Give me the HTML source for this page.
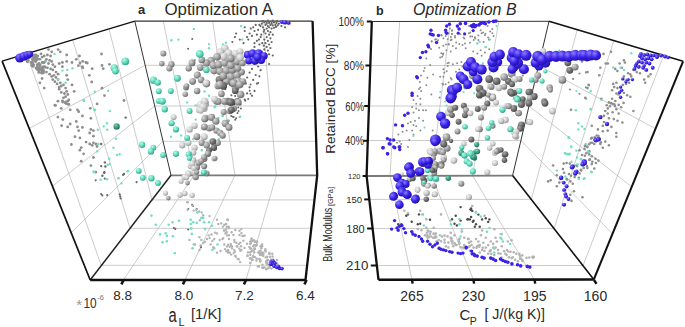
<!DOCTYPE html>
<html><head><meta charset="utf-8"><style>
html,body{margin:0;padding:0;background:#fff;}
svg{display:block;font-family:"Liberation Sans",sans-serif;}
</style></head><body>
<svg width="685" height="327" viewBox="0 0 685 327">
<defs>
<radialGradient id="gg" cx="0.32" cy="0.3" r="0.8"><stop offset="0" stop-color="#dadada"/><stop offset="0.55" stop-color="#9c9c9c"/><stop offset="1" stop-color="#5e5e5e"/></radialGradient>
<radialGradient id="gl" cx="0.35" cy="0.3" r="0.75"><stop offset="0" stop-color="#f4f4f4"/><stop offset="0.6" stop-color="#c8c8c8"/><stop offset="1" stop-color="#909090"/></radialGradient>
<radialGradient id="gd" cx="0.32" cy="0.3" r="0.8"><stop offset="0" stop-color="#a8a8a8"/><stop offset="0.55" stop-color="#6a6a6a"/><stop offset="1" stop-color="#404040"/></radialGradient>
<radialGradient id="gc" cx="0.35" cy="0.3" r="0.75"><stop offset="0" stop-color="#b8fbe8"/><stop offset="0.55" stop-color="#5fd8bd"/><stop offset="1" stop-color="#2f9c86"/></radialGradient>
<radialGradient id="gt" cx="0.35" cy="0.3" r="0.75"><stop offset="0" stop-color="#7fcfb8"/><stop offset="0.55" stop-color="#3a9a80"/><stop offset="1" stop-color="#1e6a56"/></radialGradient>
<radialGradient id="gb" cx="0.35" cy="0.3" r="0.75"><stop offset="0" stop-color="#8c7cff"/><stop offset="0.55" stop-color="#3a22e8"/><stop offset="1" stop-color="#1c0fa0"/></radialGradient>
</defs>
<g id="frame">
<polyline points="163.3,21.1 194.0,175.3 123.3,280.0" fill="none" stroke="#b0b0b0" stroke-width="0.65" />
<polyline points="212.7,21.1 234.9,175.3 185.0,280.0" fill="none" stroke="#b0b0b0" stroke-width="0.65" />
<polyline points="262.6,21.1 276.3,175.3 246.0,280.0" fill="none" stroke="#b0b0b0" stroke-width="0.65" />
<polyline points="29.4,128.5 145.0,65.3 313.6,65.3" fill="none" stroke="#b0b0b0" stroke-width="0.65" />
<polyline points="53.0,185.7 154.6,106.0 314.9,106.0" fill="none" stroke="#b0b0b0" stroke-width="0.65" />
<polyline points="71.5,232.5 162.9,141.3 316.4,141.3" fill="none" stroke="#b0b0b0" stroke-width="0.65" />
<polyline points="109.2,29.6 152.0,199.9 314.3,199.9" fill="none" stroke="#b0b0b0" stroke-width="0.65" />
<polyline points="72.8,40.3 130.0,228.3 311.2,228.3" fill="none" stroke="#b0b0b0" stroke-width="0.65" />
<polyline points="26.8,54.3 101.2,265.3 307.2,265.3" fill="none" stroke="#b0b0b0" stroke-width="0.65" />
<line x1="171.0" y1="175.3" x2="317.2" y2="175.4" stroke="#7a7a7a" stroke-width="1.8"/>
<line x1="134.8" y1="21.1" x2="171.0" y2="175.3" stroke="#333" stroke-width="1.0"/>
<line x1="134.8" y1="21.1" x2="312.6" y2="21.1" stroke="#333" stroke-width="1.1"/>
<line x1="171.0" y1="175.3" x2="90.2" y2="280.0" stroke="#222" stroke-width="1.5"/>
<line x1="2.1" y1="61.1" x2="134.8" y2="21.1" stroke="#111" stroke-width="1.5"/>
<line x1="2.1" y1="61.1" x2="90.2" y2="280.0" stroke="#111" stroke-width="1.7"/>
<polyline points="312.6,21.1 317.2,175.4 305.5,280.0" fill="none" stroke="#111" stroke-width="2.3" stroke-linejoin="miter"/>
<line x1="305.5" y1="280.0" x2="90.2" y2="280.0" stroke="#111" stroke-width="2.6"/>
<line x1="123.6" y1="280.0" x2="121.4" y2="284.3" stroke="#111" stroke-width="2.6"/>
<line x1="185.1" y1="280.0" x2="182.9" y2="284.3" stroke="#111" stroke-width="2.6"/>
<line x1="246.1" y1="280.0" x2="243.9" y2="284.3" stroke="#111" stroke-width="2.6"/>
<line x1="306.6" y1="280.0" x2="304.4" y2="284.3" stroke="#111" stroke-width="2.6"/>
<polyline points="399.7,21.3 390.0,175.6 412.0,280.0" fill="none" stroke="#b0b0b0" stroke-width="0.65" />
<polyline points="450.4,21.3 431.5,175.6 473.5,280.0" fill="none" stroke="#b0b0b0" stroke-width="0.65" />
<polyline points="498.8,21.3 472.5,175.6 534.6,280.0" fill="none" stroke="#b0b0b0" stroke-width="0.65" />
<polyline points="369.8,65.5 538.6,65.5 655.5,128.7" fill="none" stroke="#b0b0b0" stroke-width="0.65" />
<polyline points="368.6,106.0 529.0,106.0 631.7,186.8" fill="none" stroke="#b0b0b0" stroke-width="0.65" />
<polyline points="367.6,140.5 520.9,140.5 612.4,233.7" fill="none" stroke="#b0b0b0" stroke-width="0.65" />
<polyline points="369.2,199.4 531.3,199.4 577.3,29.7" fill="none" stroke="#b0b0b0" stroke-width="0.65" />
<polyline points="372.6,228.5 554.1,228.5 613.8,40.6" fill="none" stroke="#b0b0b0" stroke-width="0.65" />
<polyline points="376.8,265.5 583.1,265.5 663.6,55.5" fill="none" stroke="#b0b0b0" stroke-width="0.65" />
<line x1="366.6" y1="176.0" x2="512.6" y2="175.6" stroke="#7a7a7a" stroke-width="1.8"/>
<line x1="549.0" y1="21.3" x2="512.6" y2="175.6" stroke="#333" stroke-width="1.0"/>
<line x1="371.8" y1="21.5" x2="549.0" y2="21.3" stroke="#333" stroke-width="1.0"/>
<line x1="512.6" y1="175.6" x2="593.8" y2="279.5" stroke="#111" stroke-width="1.6"/>
<line x1="549.0" y1="21.3" x2="683.1" y2="61.3" stroke="#111" stroke-width="1.6"/>
<line x1="683.1" y1="61.3" x2="593.8" y2="279.5" stroke="#111" stroke-width="2.0"/>
<polyline points="371.8,21.5 366.6,176.0 378.5,279.8" fill="none" stroke="#111" stroke-width="2.3" stroke-linejoin="miter"/>
<line x1="378.5" y1="279.8" x2="593.8" y2="279.5" stroke="#111" stroke-width="2.6"/>
<line x1="366.8" y1="21.5" x2="371.8" y2="21.5" stroke="#111" stroke-width="2.0"/>
<line x1="365.4" y1="65.5" x2="370.4" y2="65.5" stroke="#111" stroke-width="2.0"/>
<line x1="364.2" y1="106.0" x2="369.2" y2="106.0" stroke="#111" stroke-width="2.0"/>
<line x1="363.1" y1="140.8" x2="368.1" y2="140.8" stroke="#111" stroke-width="2.0"/>
<line x1="362.6" y1="176.0" x2="366.6" y2="176.0" stroke="#111" stroke-width="2.0"/>
<line x1="364.2" y1="199.4" x2="369.2" y2="199.4" stroke="#111" stroke-width="2.0"/>
<line x1="367.1" y1="228.5" x2="372.6" y2="228.5" stroke="#111" stroke-width="2.0"/>
<line x1="370.8" y1="265.5" x2="376.8" y2="265.5" stroke="#111" stroke-width="2.0"/>
<line x1="412.0" y1="280.0" x2="412.6" y2="283.6" stroke="#111" stroke-width="2.4"/>
<line x1="473.5" y1="280.0" x2="474.1" y2="283.6" stroke="#111" stroke-width="2.4"/>
<line x1="534.6" y1="280.0" x2="535.2" y2="283.6" stroke="#111" stroke-width="2.4"/>
<line x1="594.0" y1="280.0" x2="596.5" y2="283.8" stroke="#111" stroke-width="2.4"/>
</g>
<g id="pts">
<circle cx="28.2" cy="60.3" r="1.40" fill="#8e8e8e"/>
<circle cx="31.4" cy="53.9" r="1.40" fill="#8e8e8e"/>
<circle cx="33.5" cy="57.1" r="1.40" fill="#8e8e8e"/>
<circle cx="35.7" cy="55.0" r="1.40" fill="#8e8e8e"/>
<circle cx="37.8" cy="56.0" r="1.40" fill="#8e8e8e"/>
<circle cx="39.9" cy="59.3" r="1.40" fill="#8e8e8e"/>
<circle cx="42.1" cy="57.1" r="1.40" fill="#8e8e8e"/>
<circle cx="44.2" cy="56.0" r="1.40" fill="#8e8e8e"/>
<circle cx="47.4" cy="55.0" r="1.40" fill="#8e8e8e"/>
<circle cx="50.6" cy="56.0" r="1.40" fill="#8e8e8e"/>
<circle cx="35.7" cy="61.4" r="1.40" fill="#8e8e8e"/>
<circle cx="38.9" cy="63.5" r="1.40" fill="#8e8e8e"/>
<circle cx="42.1" cy="62.5" r="1.40" fill="#8e8e8e"/>
<circle cx="45.3" cy="61.4" r="1.40" fill="#8e8e8e"/>
<circle cx="48.5" cy="63.5" r="1.40" fill="#8e8e8e"/>
<circle cx="52.8" cy="64.6" r="1.40" fill="#8e8e8e"/>
<circle cx="54.9" cy="66.7" r="1.40" fill="#8e8e8e"/>
<circle cx="44.2" cy="66.7" r="1.40" fill="#8e8e8e"/>
<circle cx="47.4" cy="67.8" r="1.40" fill="#8e8e8e"/>
<circle cx="50.6" cy="68.9" r="1.40" fill="#8e8e8e"/>
<circle cx="52.8" cy="69.9" r="1.40" fill="#8e8e8e"/>
<circle cx="56.0" cy="72.1" r="1.40" fill="#8e8e8e"/>
<circle cx="58.1" cy="74.2" r="1.40" fill="#8e8e8e"/>
<circle cx="53.9" cy="75.3" r="1.40" fill="#8e8e8e"/>
<circle cx="56.0" cy="77.4" r="1.40" fill="#8e8e8e"/>
<circle cx="52.8" cy="79.6" r="1.40" fill="#8e8e8e"/>
<circle cx="54.9" cy="81.7" r="1.40" fill="#8e8e8e"/>
<circle cx="58.1" cy="79.6" r="1.40" fill="#8e8e8e"/>
<circle cx="60.3" cy="82.8" r="1.40" fill="#8e8e8e"/>
<circle cx="61.3" cy="86.0" r="1.40" fill="#8e8e8e"/>
<circle cx="63.5" cy="84.9" r="1.40" fill="#8e8e8e"/>
<circle cx="65.6" cy="88.1" r="1.40" fill="#8e8e8e"/>
<circle cx="61.3" cy="92.4" r="1.40" fill="#8e8e8e"/>
<circle cx="64.5" cy="93.5" r="1.40" fill="#8e8e8e"/>
<circle cx="66.7" cy="91.3" r="1.40" fill="#8e8e8e"/>
<circle cx="67.8" cy="94.5" r="1.40" fill="#8e8e8e"/>
<circle cx="63.5" cy="97.8" r="1.40" fill="#8e8e8e"/>
<circle cx="62.4" cy="101.0" r="1.40" fill="#8e8e8e"/>
<circle cx="65.6" cy="102.0" r="1.40" fill="#8e8e8e"/>
<circle cx="67.8" cy="104.2" r="1.40" fill="#8e8e8e"/>
<circle cx="68.8" cy="99.9" r="1.40" fill="#8e8e8e"/>
<circle cx="59.2" cy="89.2" r="1.40" fill="#8e8e8e"/>
<circle cx="59.2" cy="63.5" r="1.40" fill="#8e8e8e"/>
<circle cx="62.4" cy="62.5" r="1.40" fill="#8e8e8e"/>
<circle cx="66.7" cy="61.4" r="1.40" fill="#8e8e8e"/>
<circle cx="62.4" cy="66.7" r="1.40" fill="#8e8e8e"/>
<circle cx="66.7" cy="55.0" r="1.40" fill="#8e8e8e"/>
<circle cx="72.0" cy="62.5" r="1.40" fill="#8e8e8e"/>
<circle cx="76.3" cy="59.3" r="1.40" fill="#8e8e8e"/>
<circle cx="78.4" cy="65.7" r="1.40" fill="#8e8e8e"/>
<circle cx="82.7" cy="67.8" r="1.40" fill="#8e8e8e"/>
<circle cx="82.7" cy="61.4" r="1.40" fill="#8e8e8e"/>
<circle cx="85.9" cy="62.5" r="1.40" fill="#8e8e8e"/>
<circle cx="79.5" cy="56.0" r="1.40" fill="#8e8e8e"/>
<circle cx="58.1" cy="49.6" r="1.40" fill="#8e8e8e"/>
<circle cx="60.3" cy="51.8" r="1.40" fill="#8e8e8e"/>
<circle cx="48.5" cy="49.6" r="1.40" fill="#8e8e8e"/>
<circle cx="51.7" cy="51.8" r="1.40" fill="#8e8e8e"/>
<circle cx="42.1" cy="78.5" r="1.40" fill="#8e8e8e"/>
<circle cx="39.9" cy="82.8" r="1.40" fill="#8e8e8e"/>
<circle cx="44.2" cy="88.1" r="1.40" fill="#8e8e8e"/>
<circle cx="74.2" cy="91.3" r="1.40" fill="#8e8e8e"/>
<circle cx="72.0" cy="84.9" r="1.40" fill="#8e8e8e"/>
<circle cx="67.8" cy="79.6" r="1.40" fill="#8e8e8e"/>
<circle cx="66.7" cy="75.3" r="1.40" fill="#8e8e8e"/>
<circle cx="54.9" cy="105.2" r="1.40" fill="#8e8e8e"/>
<circle cx="61.3" cy="108.4" r="1.40" fill="#8e8e8e"/>
<circle cx="30.3" cy="57.1" r="1.40" fill="#8e8e8e"/>
<circle cx="33.5" cy="59.3" r="1.40" fill="#8e8e8e"/>
<circle cx="36.7" cy="58.2" r="1.40" fill="#8e8e8e"/>
<circle cx="41.0" cy="53.9" r="1.40" fill="#8e8e8e"/>
<circle cx="46.4" cy="59.3" r="1.40" fill="#8e8e8e"/>
<circle cx="49.6" cy="60.3" r="1.40" fill="#8e8e8e"/>
<circle cx="51.7" cy="61.4" r="1.40" fill="#8e8e8e"/>
<circle cx="39.9" cy="65.7" r="1.40" fill="#8e8e8e"/>
<circle cx="43.2" cy="69.9" r="1.40" fill="#8e8e8e"/>
<circle cx="46.4" cy="72.1" r="1.40" fill="#8e8e8e"/>
<circle cx="49.6" cy="74.2" r="1.40" fill="#8e8e8e"/>
<circle cx="51.7" cy="76.4" r="1.40" fill="#8e8e8e"/>
<circle cx="57.1" cy="83.9" r="1.40" fill="#8e8e8e"/>
<circle cx="59.2" cy="87.1" r="1.40" fill="#8e8e8e"/>
<circle cx="65.6" cy="96.7" r="1.40" fill="#8e8e8e"/>
<circle cx="54.5" cy="53.9" r="1.20" fill="#6fe0c6"/>
<circle cx="44.7" cy="61.4" r="1.20" fill="#6fe0c6"/>
<circle cx="62.4" cy="70.6" r="1.20" fill="#6fe0c6"/>
<circle cx="67.3" cy="69.9" r="1.20" fill="#6fe0c6"/>
<circle cx="72.5" cy="68.2" r="1.20" fill="#6fe0c6"/>
<circle cx="58.1" cy="79.6" r="1.20" fill="#6fe0c6"/>
<circle cx="65.6" cy="82.8" r="1.20" fill="#6fe0c6"/>
<circle cx="83.8" cy="100.5" r="1.20" fill="#6fe0c6"/>
<circle cx="39.3" cy="68.3" r="1.60" fill="#8e8e8e"/>
<circle cx="43.3" cy="72.7" r="1.60" fill="#8e8e8e"/>
<circle cx="42.0" cy="72.3" r="1.60" fill="#8e8e8e"/>
<circle cx="35.8" cy="57.4" r="1.60" fill="#8e8e8e"/>
<circle cx="37.5" cy="64.6" r="1.60" fill="#8e8e8e"/>
<circle cx="29.8" cy="56.7" r="1.60" fill="#8e8e8e"/>
<circle cx="37.4" cy="66.9" r="1.60" fill="#8e8e8e"/>
<circle cx="33.3" cy="55.7" r="1.60" fill="#8e8e8e"/>
<circle cx="28.4" cy="53.4" r="1.60" fill="#8e8e8e"/>
<circle cx="31.9" cy="65.3" r="1.60" fill="#8e8e8e"/>
<circle cx="32.8" cy="58.8" r="1.60" fill="#8e8e8e"/>
<circle cx="43.8" cy="62.6" r="1.60" fill="#8e8e8e"/>
<circle cx="32.3" cy="62.6" r="1.60" fill="#8e8e8e"/>
<circle cx="42.2" cy="70.6" r="1.60" fill="#8e8e8e"/>
<circle cx="33.4" cy="64.7" r="1.60" fill="#8e8e8e"/>
<circle cx="32.9" cy="59.8" r="1.60" fill="#8e8e8e"/>
<circle cx="37.1" cy="69.1" r="1.60" fill="#8e8e8e"/>
<circle cx="43.3" cy="70.9" r="1.60" fill="#8e8e8e"/>
<circle cx="27.1" cy="59.5" r="1.60" fill="#8e8e8e"/>
<circle cx="39.0" cy="72.2" r="1.60" fill="#8e8e8e"/>
<circle cx="37.5" cy="58.9" r="1.60" fill="#8e8e8e"/>
<circle cx="32.3" cy="55.9" r="1.60" fill="#8e8e8e"/>
<circle cx="26.8" cy="55.3" r="1.60" fill="#8e8e8e"/>
<circle cx="34.3" cy="57.2" r="1.60" fill="#8e8e8e"/>
<circle cx="38.7" cy="70.2" r="1.60" fill="#8e8e8e"/>
<circle cx="35.5" cy="61.3" r="1.60" fill="#8e8e8e"/>
<circle cx="41.8" cy="72.9" r="1.60" fill="#8e8e8e"/>
<circle cx="39.5" cy="69.3" r="1.60" fill="#8e8e8e"/>
<circle cx="27.5" cy="61.6" r="1.60" fill="#8e8e8e"/>
<circle cx="31.8" cy="62.0" r="1.60" fill="#8e8e8e"/>
<circle cx="36.2" cy="68.0" r="1.60" fill="#8e8e8e"/>
<circle cx="36.0" cy="58.4" r="1.60" fill="#8e8e8e"/>
<circle cx="34.3" cy="55.2" r="1.60" fill="#8e8e8e"/>
<circle cx="36.5" cy="59.4" r="1.60" fill="#8e8e8e"/>
<circle cx="27.1" cy="58.0" r="1.60" fill="#8e8e8e"/>
<circle cx="43.0" cy="71.1" r="1.60" fill="#8e8e8e"/>
<circle cx="42.8" cy="67.3" r="1.60" fill="#8e8e8e"/>
<circle cx="40.3" cy="68.7" r="1.60" fill="#8e8e8e"/>
<circle cx="31.5" cy="62.7" r="1.60" fill="#8e8e8e"/>
<circle cx="42.7" cy="67.2" r="1.60" fill="#8e8e8e"/>
<circle cx="39.9" cy="64.8" r="1.60" fill="#8e8e8e"/>
<circle cx="39.9" cy="69.5" r="1.60" fill="#8e8e8e"/>
<circle cx="33.0" cy="66.2" r="1.60" fill="#8e8e8e"/>
<circle cx="42.0" cy="70.2" r="1.60" fill="#8e8e8e"/>
<circle cx="45.0" cy="67.1" r="1.60" fill="#8e8e8e"/>
<circle cx="101.5" cy="54.0" r="1.40" fill="#8e8e8e"/>
<circle cx="87.3" cy="63.0" r="1.40" fill="#8e8e8e"/>
<circle cx="80.0" cy="63.0" r="1.40" fill="#8e8e8e"/>
<circle cx="82.4" cy="66.7" r="1.40" fill="#8e8e8e"/>
<circle cx="92.2" cy="68.7" r="1.40" fill="#8e8e8e"/>
<circle cx="102.0" cy="65.5" r="1.40" fill="#8e8e8e"/>
<circle cx="103.2" cy="68.7" r="1.40" fill="#8e8e8e"/>
<circle cx="109.4" cy="64.3" r="1.40" fill="#8e8e8e"/>
<circle cx="89.3" cy="75.3" r="1.40" fill="#8e8e8e"/>
<circle cx="91.7" cy="81.9" r="1.40" fill="#8e8e8e"/>
<circle cx="102.0" cy="88.2" r="1.40" fill="#8e8e8e"/>
<circle cx="104.5" cy="95.6" r="1.40" fill="#8e8e8e"/>
<circle cx="97.1" cy="103.9" r="1.40" fill="#8e8e8e"/>
<circle cx="90.3" cy="108.3" r="1.40" fill="#8e8e8e"/>
<circle cx="124.0" cy="100.5" r="1.40" fill="#8e8e8e"/>
<circle cx="94.7" cy="91.7" r="1.20" fill="#6fe0c6"/>
<circle cx="108.1" cy="90.7" r="1.20" fill="#6fe0c6"/>
<circle cx="83.7" cy="100.5" r="1.20" fill="#6fe0c6"/>
<circle cx="94.7" cy="109.5" r="1.20" fill="#6fe0c6"/>
<circle cx="57.9" cy="101.2" r="1.40" fill="#8e8e8e"/>
<circle cx="62.8" cy="102.0" r="1.40" fill="#8e8e8e"/>
<circle cx="65.3" cy="102.9" r="1.40" fill="#8e8e8e"/>
<circle cx="67.7" cy="101.2" r="1.40" fill="#8e8e8e"/>
<circle cx="68.9" cy="104.4" r="1.40" fill="#8e8e8e"/>
<circle cx="66.5" cy="103.7" r="1.40" fill="#8e8e8e"/>
<circle cx="55.5" cy="105.4" r="1.40" fill="#8e8e8e"/>
<circle cx="70.2" cy="109.8" r="1.40" fill="#8e8e8e"/>
<circle cx="77.5" cy="109.8" r="1.40" fill="#8e8e8e"/>
<circle cx="78.7" cy="111.7" r="1.40" fill="#8e8e8e"/>
<circle cx="57.9" cy="117.1" r="1.40" fill="#8e8e8e"/>
<circle cx="62.8" cy="119.6" r="1.40" fill="#8e8e8e"/>
<circle cx="76.3" cy="121.5" r="1.40" fill="#8e8e8e"/>
<circle cx="82.4" cy="115.9" r="1.40" fill="#8e8e8e"/>
<circle cx="90.9" cy="118.3" r="1.40" fill="#8e8e8e"/>
<circle cx="61.6" cy="125.7" r="1.40" fill="#8e8e8e"/>
<circle cx="67.7" cy="126.9" r="1.40" fill="#8e8e8e"/>
<circle cx="70.2" cy="124.0" r="1.40" fill="#8e8e8e"/>
<circle cx="77.5" cy="126.9" r="1.40" fill="#8e8e8e"/>
<circle cx="78.7" cy="130.6" r="1.40" fill="#8e8e8e"/>
<circle cx="82.4" cy="127.4" r="1.40" fill="#8e8e8e"/>
<circle cx="90.9" cy="129.4" r="1.40" fill="#8e8e8e"/>
<circle cx="93.4" cy="130.6" r="1.40" fill="#8e8e8e"/>
<circle cx="75.0" cy="136.7" r="1.40" fill="#8e8e8e"/>
<circle cx="79.9" cy="137.9" r="1.40" fill="#8e8e8e"/>
<circle cx="89.7" cy="133.0" r="1.40" fill="#8e8e8e"/>
<circle cx="93.4" cy="136.2" r="1.40" fill="#8e8e8e"/>
<circle cx="86.1" cy="142.1" r="1.40" fill="#8e8e8e"/>
<circle cx="89.7" cy="144.0" r="1.40" fill="#8e8e8e"/>
<circle cx="92.2" cy="145.3" r="1.40" fill="#8e8e8e"/>
<circle cx="71.4" cy="144.5" r="1.40" fill="#8e8e8e"/>
<circle cx="81.2" cy="147.7" r="1.40" fill="#8e8e8e"/>
<circle cx="79.9" cy="150.2" r="1.40" fill="#8e8e8e"/>
<circle cx="83.6" cy="153.8" r="1.40" fill="#8e8e8e"/>
<circle cx="93.4" cy="142.8" r="1.40" fill="#8e8e8e"/>
<circle cx="95.8" cy="144.0" r="1.40" fill="#8e8e8e"/>
<circle cx="97.1" cy="146.5" r="1.40" fill="#8e8e8e"/>
<circle cx="81.2" cy="161.2" r="1.40" fill="#8e8e8e"/>
<circle cx="93.4" cy="157.5" r="1.40" fill="#8e8e8e"/>
<circle cx="90.9" cy="165.6" r="1.40" fill="#8e8e8e"/>
<circle cx="95.8" cy="172.2" r="1.40" fill="#8e8e8e"/>
<circle cx="84.1" cy="100.7" r="1.20" fill="#6fe0c6"/>
<circle cx="94.6" cy="110.3" r="1.20" fill="#6fe0c6"/>
<circle cx="97.8" cy="129.8" r="1.20" fill="#6fe0c6"/>
<circle cx="98.3" cy="144.0" r="1.20" fill="#6fe0c6"/>
<circle cx="97.1" cy="151.4" r="1.20" fill="#6fe0c6"/>
<circle cx="93.4" cy="171.4" r="1.20" fill="#6fe0c6"/>
<circle cx="104.1" cy="172.9" r="1.10" fill="#6a6a6a"/>
<circle cx="95.7" cy="180.3" r="1.10" fill="#6a6a6a"/>
<circle cx="104.8" cy="178.6" r="1.10" fill="#6a6a6a"/>
<circle cx="101.1" cy="194.0" r="1.10" fill="#6a6a6a"/>
<circle cx="102.3" cy="195.4" r="1.10" fill="#6a6a6a"/>
<circle cx="107.2" cy="195.2" r="1.10" fill="#6a6a6a"/>
<circle cx="119.7" cy="194.4" r="1.10" fill="#6a6a6a"/>
<circle cx="120.2" cy="196.4" r="1.10" fill="#6a6a6a"/>
<circle cx="120.7" cy="198.4" r="1.10" fill="#6a6a6a"/>
<circle cx="123.1" cy="174.9" r="1.10" fill="#6a6a6a"/>
<circle cx="136.6" cy="182.2" r="1.10" fill="#6a6a6a"/>
<circle cx="94.3" cy="172.4" r="1.20" fill="#6fe0c6"/>
<circle cx="100.6" cy="179.8" r="1.20" fill="#6fe0c6"/>
<circle cx="107.2" cy="179.3" r="1.20" fill="#6fe0c6"/>
<circle cx="118.7" cy="178.1" r="1.20" fill="#6fe0c6"/>
<circle cx="121.4" cy="183.4" r="1.20" fill="#6fe0c6"/>
<circle cx="127.5" cy="171.2" r="1.20" fill="#6fe0c6"/>
<circle cx="109.8" cy="111.0" r="1.20" fill="#6fe0c6"/>
<circle cx="106.9" cy="123.2" r="1.20" fill="#6fe0c6"/>
<circle cx="103.7" cy="126.4" r="1.20" fill="#6fe0c6"/>
<circle cx="107.3" cy="129.8" r="1.20" fill="#6fe0c6"/>
<circle cx="115.9" cy="138.7" r="1.20" fill="#6fe0c6"/>
<circle cx="113.5" cy="147.7" r="1.20" fill="#6fe0c6"/>
<circle cx="117.1" cy="155.0" r="1.20" fill="#6fe0c6"/>
<circle cx="119.6" cy="154.3" r="1.20" fill="#6fe0c6"/>
<circle cx="109.3" cy="158.7" r="1.20" fill="#6fe0c6"/>
<circle cx="109.8" cy="164.1" r="1.20" fill="#6fe0c6"/>
<circle cx="107.8" cy="164.8" r="1.20" fill="#6fe0c6"/>
<circle cx="128.1" cy="170.9" r="1.20" fill="#6fe0c6"/>
<circle cx="118.3" cy="178.3" r="1.20" fill="#6fe0c6"/>
<circle cx="170.9" cy="136.7" r="1.20" fill="#6fe0c6"/>
<circle cx="125.7" cy="117.6" r="1.20" fill="#6a6a6a"/>
<circle cx="101.2" cy="144.0" r="1.20" fill="#6a6a6a"/>
<circle cx="104.9" cy="162.4" r="1.20" fill="#6a6a6a"/>
<circle cx="101.2" cy="166.1" r="1.20" fill="#6a6a6a"/>
<circle cx="105.4" cy="166.5" r="1.20" fill="#6a6a6a"/>
<circle cx="104.4" cy="172.2" r="1.20" fill="#6a6a6a"/>
<circle cx="124.0" cy="173.9" r="1.20" fill="#6a6a6a"/>
<circle cx="102.4" cy="175.8" r="1.20" fill="#6a6a6a"/>
<circle cx="187.1" cy="102.4" r="1.20" fill="#6fe0c6"/>
<circle cx="195.7" cy="105.4" r="1.20" fill="#6fe0c6"/>
<circle cx="215.3" cy="106.1" r="1.20" fill="#6fe0c6"/>
<circle cx="195.7" cy="119.6" r="1.20" fill="#6fe0c6"/>
<circle cx="222.6" cy="115.9" r="1.20" fill="#6fe0c6"/>
<circle cx="193.2" cy="139.1" r="1.20" fill="#6fe0c6"/>
<circle cx="181.0" cy="135.5" r="1.20" fill="#6fe0c6"/>
<circle cx="201.8" cy="150.2" r="1.20" fill="#6fe0c6"/>
<circle cx="218.9" cy="139.1" r="1.20" fill="#6fe0c6"/>
<circle cx="231.2" cy="115.9" r="1.00" fill="#666666"/>
<circle cx="233.6" cy="117.1" r="1.00" fill="#666666"/>
<circle cx="236.1" cy="118.3" r="1.00" fill="#666666"/>
<circle cx="239.7" cy="117.1" r="1.00" fill="#666666"/>
<circle cx="228.7" cy="120.8" r="1.00" fill="#666666"/>
<circle cx="240.9" cy="108.6" r="1.00" fill="#666666"/>
<circle cx="238.5" cy="111.0" r="1.00" fill="#666666"/>
<circle cx="171.4" cy="40.3" r="1.20" fill="#6fe0c6"/>
<circle cx="178.5" cy="39.6" r="1.20" fill="#6fe0c6"/>
<circle cx="195.0" cy="60.0" r="1.20" fill="#6fe0c6"/>
<circle cx="192.2" cy="39.0" r="1.00" fill="#666666"/>
<circle cx="188.1" cy="48.8" r="1.00" fill="#666666"/>
<circle cx="264.3" cy="22.4" r="1.10" fill="#666666"/>
<circle cx="266.7" cy="22.0" r="1.10" fill="#666666"/>
<circle cx="269.1" cy="22.9" r="1.10" fill="#666666"/>
<circle cx="271.6" cy="22.0" r="1.10" fill="#666666"/>
<circle cx="274.0" cy="22.4" r="1.10" fill="#666666"/>
<circle cx="276.5" cy="22.9" r="1.10" fill="#666666"/>
<circle cx="278.9" cy="23.7" r="1.10" fill="#666666"/>
<circle cx="265.5" cy="24.9" r="1.10" fill="#666666"/>
<circle cx="267.9" cy="26.1" r="1.10" fill="#666666"/>
<circle cx="270.4" cy="24.9" r="1.10" fill="#666666"/>
<circle cx="272.8" cy="25.4" r="1.10" fill="#666666"/>
<circle cx="275.3" cy="24.9" r="1.10" fill="#666666"/>
<circle cx="277.7" cy="25.4" r="1.10" fill="#666666"/>
<circle cx="266.7" cy="28.6" r="1.10" fill="#666666"/>
<circle cx="269.1" cy="27.3" r="1.10" fill="#666666"/>
<circle cx="271.6" cy="28.6" r="1.10" fill="#666666"/>
<circle cx="274.0" cy="27.8" r="1.10" fill="#666666"/>
<circle cx="264.3" cy="29.8" r="1.10" fill="#666666"/>
<circle cx="267.9" cy="31.0" r="1.10" fill="#666666"/>
<circle cx="270.4" cy="32.2" r="1.10" fill="#666666"/>
<circle cx="261.8" cy="23.7" r="1.10" fill="#666666"/>
<circle cx="260.6" cy="26.1" r="1.10" fill="#666666"/>
<circle cx="263.0" cy="27.3" r="1.10" fill="#666666"/>
<circle cx="265.5" cy="33.5" r="1.10" fill="#666666"/>
<circle cx="269.1" cy="34.7" r="1.10" fill="#666666"/>
<circle cx="272.8" cy="34.7" r="1.10" fill="#666666"/>
<circle cx="266.7" cy="37.1" r="1.10" fill="#666666"/>
<circle cx="270.4" cy="38.3" r="1.10" fill="#666666"/>
<circle cx="264.3" cy="39.6" r="1.10" fill="#666666"/>
<circle cx="267.9" cy="40.8" r="1.10" fill="#666666"/>
<circle cx="271.6" cy="42.0" r="1.10" fill="#666666"/>
<circle cx="265.5" cy="43.2" r="1.10" fill="#666666"/>
<circle cx="269.1" cy="44.5" r="1.10" fill="#666666"/>
<circle cx="266.7" cy="46.9" r="1.10" fill="#666666"/>
<circle cx="270.4" cy="48.1" r="1.10" fill="#666666"/>
<circle cx="264.3" cy="49.4" r="1.10" fill="#666666"/>
<circle cx="267.9" cy="50.6" r="1.10" fill="#666666"/>
<circle cx="269.1" cy="54.3" r="1.10" fill="#666666"/>
<circle cx="265.5" cy="54.3" r="1.10" fill="#666666"/>
<circle cx="261.8" cy="51.8" r="1.10" fill="#666666"/>
<circle cx="259.4" cy="44.5" r="1.10" fill="#666666"/>
<circle cx="256.9" cy="40.8" r="1.10" fill="#666666"/>
<circle cx="260.6" cy="37.1" r="1.10" fill="#666666"/>
<circle cx="256.9" cy="34.7" r="1.10" fill="#666666"/>
<circle cx="254.5" cy="31.0" r="1.10" fill="#666666"/>
<circle cx="258.1" cy="29.8" r="1.10" fill="#666666"/>
<circle cx="253.2" cy="27.3" r="1.10" fill="#666666"/>
<circle cx="255.7" cy="24.9" r="1.10" fill="#666666"/>
<circle cx="250.8" cy="28.6" r="1.10" fill="#666666"/>
<circle cx="249.6" cy="33.5" r="1.10" fill="#666666"/>
<circle cx="252.0" cy="35.9" r="1.10" fill="#666666"/>
<circle cx="247.1" cy="37.1" r="1.10" fill="#666666"/>
<circle cx="244.7" cy="31.0" r="1.10" fill="#666666"/>
<circle cx="248.3" cy="39.6" r="1.10" fill="#666666"/>
<circle cx="254.5" cy="43.2" r="1.10" fill="#666666"/>
<circle cx="254.5" cy="46.9" r="1.10" fill="#666666"/>
<circle cx="234.9" cy="37.1" r="1.10" fill="#666666"/>
<circle cx="236.1" cy="33.5" r="1.10" fill="#666666"/>
<circle cx="232.4" cy="42.0" r="1.10" fill="#666666"/>
<circle cx="239.8" cy="39.6" r="1.10" fill="#666666"/>
<circle cx="243.5" cy="43.2" r="1.10" fill="#666666"/>
<circle cx="259.4" cy="24.9" r="1.10" fill="#666666"/>
<circle cx="281.4" cy="26.1" r="1.10" fill="#666666"/>
<circle cx="285.0" cy="27.3" r="1.10" fill="#666666"/>
<circle cx="244.7" cy="27.3" r="1.10" fill="#666666"/>
<circle cx="254.5" cy="64.0" r="1.10" fill="#666666"/>
<circle cx="258.1" cy="66.5" r="1.10" fill="#666666"/>
<circle cx="252.0" cy="68.9" r="1.10" fill="#666666"/>
<circle cx="260.6" cy="70.2" r="1.10" fill="#666666"/>
<circle cx="249.6" cy="72.6" r="1.10" fill="#666666"/>
<circle cx="255.7" cy="75.0" r="1.10" fill="#666666"/>
<circle cx="247.1" cy="77.5" r="1.10" fill="#666666"/>
<circle cx="259.4" cy="76.3" r="1.10" fill="#666666"/>
<circle cx="253.2" cy="79.9" r="1.10" fill="#666666"/>
<circle cx="245.9" cy="83.6" r="1.10" fill="#666666"/>
<circle cx="256.9" cy="83.6" r="1.10" fill="#666666"/>
<circle cx="249.6" cy="87.3" r="1.10" fill="#666666"/>
<circle cx="254.5" cy="90.9" r="1.10" fill="#666666"/>
<circle cx="247.1" cy="93.4" r="1.10" fill="#666666"/>
<circle cx="252.0" cy="95.8" r="1.10" fill="#666666"/>
<circle cx="244.7" cy="99.5" r="1.10" fill="#666666"/>
<circle cx="269.1" cy="64.0" r="1.10" fill="#666666"/>
<circle cx="272.8" cy="55.5" r="1.10" fill="#666666"/>
<circle cx="263.0" cy="21.2" r="1.10" fill="#666666"/>
<circle cx="267.9" cy="20.7" r="1.10" fill="#666666"/>
<circle cx="272.8" cy="20.7" r="1.10" fill="#666666"/>
<circle cx="277.0" cy="21.2" r="1.10" fill="#666666"/>
<circle cx="266.7" cy="23.7" r="1.10" fill="#666666"/>
<circle cx="271.6" cy="23.7" r="1.10" fill="#666666"/>
<circle cx="276.0" cy="26.9" r="1.10" fill="#666666"/>
<circle cx="263.8" cy="31.7" r="1.10" fill="#666666"/>
<circle cx="261.3" cy="34.7" r="1.10" fill="#666666"/>
<circle cx="258.9" cy="39.6" r="1.10" fill="#666666"/>
<circle cx="262.3" cy="43.2" r="1.10" fill="#666666"/>
<circle cx="263.8" cy="45.7" r="1.10" fill="#666666"/>
<circle cx="241.0" cy="26.1" r="1.20" fill="#6fe0c6"/>
<circle cx="242.2" cy="39.6" r="1.20" fill="#6fe0c6"/>
<circle cx="187.5" cy="202.3" r="1.00" fill="#666666"/>
<circle cx="192.1" cy="204.7" r="1.00" fill="#666666"/>
<circle cx="193.0" cy="206.0" r="1.00" fill="#666666"/>
<circle cx="188.4" cy="209.1" r="1.00" fill="#666666"/>
<circle cx="196.7" cy="209.1" r="1.00" fill="#666666"/>
<circle cx="151.5" cy="215.6" r="1.30" fill="#6fe0c6"/>
<circle cx="155.9" cy="224.7" r="1.30" fill="#6fe0c6"/>
<circle cx="168.7" cy="224.7" r="1.30" fill="#6fe0c6"/>
<circle cx="172.4" cy="222.2" r="1.30" fill="#6fe0c6"/>
<circle cx="179.0" cy="220.7" r="1.30" fill="#6fe0c6"/>
<circle cx="190.7" cy="219.8" r="1.30" fill="#6fe0c6"/>
<circle cx="193.1" cy="222.2" r="1.30" fill="#6fe0c6"/>
<circle cx="190.7" cy="224.0" r="1.30" fill="#6fe0c6"/>
<circle cx="196.8" cy="222.9" r="1.30" fill="#6fe0c6"/>
<circle cx="203.2" cy="217.9" r="1.30" fill="#6fe0c6"/>
<circle cx="204.1" cy="222.2" r="1.30" fill="#6fe0c6"/>
<circle cx="209.1" cy="222.2" r="1.30" fill="#6fe0c6"/>
<circle cx="212.0" cy="225.8" r="1.30" fill="#6fe0c6"/>
<circle cx="205.0" cy="228.9" r="1.30" fill="#6fe0c6"/>
<circle cx="191.3" cy="228.4" r="1.30" fill="#6fe0c6"/>
<circle cx="160.1" cy="234.4" r="1.30" fill="#6fe0c6"/>
<circle cx="165.6" cy="233.2" r="1.30" fill="#6fe0c6"/>
<circle cx="166.9" cy="235.7" r="1.30" fill="#6fe0c6"/>
<circle cx="172.9" cy="236.3" r="1.30" fill="#6fe0c6"/>
<circle cx="162.5" cy="242.3" r="1.30" fill="#6fe0c6"/>
<circle cx="166.9" cy="241.2" r="1.30" fill="#6fe0c6"/>
<circle cx="191.8" cy="233.9" r="1.30" fill="#6fe0c6"/>
<circle cx="194.0" cy="244.2" r="1.30" fill="#6fe0c6"/>
<circle cx="192.6" cy="248.2" r="1.30" fill="#6fe0c6"/>
<circle cx="212.4" cy="249.7" r="1.30" fill="#6fe0c6"/>
<circle cx="217.5" cy="244.5" r="1.30" fill="#6fe0c6"/>
<circle cx="174.8" cy="253.3" r="1.30" fill="#6fe0c6"/>
<circle cx="197.3" cy="212.4" r="1.30" fill="#6fe0c6"/>
<circle cx="201.4" cy="217.9" r="1.30" fill="#6fe0c6"/>
<circle cx="187.6" cy="202.3" r="1.20" fill="#b4b4b4"/>
<circle cx="192.6" cy="205.6" r="1.20" fill="#b4b4b4"/>
<circle cx="187.6" cy="209.7" r="1.20" fill="#b4b4b4"/>
<circle cx="193.7" cy="210.6" r="1.20" fill="#b4b4b4"/>
<circle cx="196.2" cy="209.7" r="1.20" fill="#b4b4b4"/>
<circle cx="199.2" cy="211.5" r="1.20" fill="#b4b4b4"/>
<circle cx="201.7" cy="212.4" r="1.20" fill="#b4b4b4"/>
<circle cx="203.2" cy="215.2" r="1.20" fill="#b4b4b4"/>
<circle cx="199.9" cy="220.3" r="1.20" fill="#b4b4b4"/>
<circle cx="209.6" cy="216.1" r="1.20" fill="#b4b4b4"/>
<circle cx="217.0" cy="219.8" r="1.20" fill="#b4b4b4"/>
<circle cx="218.3" cy="224.0" r="1.20" fill="#b4b4b4"/>
<circle cx="221.2" cy="223.4" r="1.20" fill="#b4b4b4"/>
<circle cx="224.3" cy="224.7" r="1.20" fill="#b4b4b4"/>
<circle cx="226.1" cy="224.0" r="1.20" fill="#b4b4b4"/>
<circle cx="223.0" cy="226.6" r="1.20" fill="#b4b4b4"/>
<circle cx="226.1" cy="229.5" r="1.20" fill="#b4b4b4"/>
<circle cx="228.9" cy="228.0" r="1.20" fill="#b4b4b4"/>
<circle cx="215.1" cy="232.6" r="1.20" fill="#b4b4b4"/>
<circle cx="217.0" cy="233.5" r="1.20" fill="#b4b4b4"/>
<circle cx="208.7" cy="235.4" r="1.20" fill="#b4b4b4"/>
<circle cx="211.5" cy="234.4" r="1.20" fill="#b4b4b4"/>
<circle cx="206.9" cy="239.0" r="1.20" fill="#b4b4b4"/>
<circle cx="209.6" cy="238.1" r="1.20" fill="#b4b4b4"/>
<circle cx="212.4" cy="240.9" r="1.20" fill="#b4b4b4"/>
<circle cx="214.2" cy="239.0" r="1.20" fill="#b4b4b4"/>
<circle cx="199.5" cy="237.2" r="1.20" fill="#b4b4b4"/>
<circle cx="201.4" cy="240.0" r="1.20" fill="#b4b4b4"/>
<circle cx="203.2" cy="243.1" r="1.20" fill="#b4b4b4"/>
<circle cx="205.0" cy="241.8" r="1.20" fill="#b4b4b4"/>
<circle cx="210.6" cy="244.5" r="1.20" fill="#b4b4b4"/>
<circle cx="213.3" cy="247.3" r="1.20" fill="#b4b4b4"/>
<circle cx="219.7" cy="240.0" r="1.20" fill="#b4b4b4"/>
<circle cx="222.5" cy="239.0" r="1.20" fill="#b4b4b4"/>
<circle cx="224.3" cy="244.5" r="1.20" fill="#b4b4b4"/>
<circle cx="227.1" cy="246.4" r="1.20" fill="#b4b4b4"/>
<circle cx="224.9" cy="249.1" r="1.20" fill="#b4b4b4"/>
<circle cx="220.6" cy="251.0" r="1.20" fill="#b4b4b4"/>
<circle cx="217.0" cy="252.8" r="1.20" fill="#b4b4b4"/>
<circle cx="214.2" cy="248.2" r="1.20" fill="#b4b4b4"/>
<circle cx="189.4" cy="240.0" r="1.20" fill="#b4b4b4"/>
<circle cx="195.0" cy="244.5" r="1.20" fill="#b4b4b4"/>
<circle cx="200.5" cy="245.5" r="1.20" fill="#b4b4b4"/>
<circle cx="199.5" cy="250.0" r="1.20" fill="#b4b4b4"/>
<circle cx="227.1" cy="235.4" r="1.20" fill="#b4b4b4"/>
<circle cx="228.9" cy="239.0" r="1.20" fill="#b4b4b4"/>
<circle cx="228.0" cy="250.0" r="1.20" fill="#b4b4b4"/>
<circle cx="229.8" cy="252.8" r="1.20" fill="#b4b4b4"/>
<circle cx="175.3" cy="228.9" r="1.10" fill="#6a6a6a"/>
<circle cx="188.2" cy="229.5" r="1.10" fill="#6a6a6a"/>
<circle cx="201.0" cy="247.3" r="1.10" fill="#6a6a6a"/>
<circle cx="173.9" cy="228.0" r="1.10" fill="#6a6a6a"/>
<circle cx="250.2" cy="241.4" r="1.20" fill="#b4b4b4"/>
<circle cx="259.1" cy="259.0" r="1.20" fill="#b4b4b4"/>
<circle cx="227.3" cy="219.5" r="1.20" fill="#b4b4b4"/>
<circle cx="247.4" cy="255.5" r="1.20" fill="#b4b4b4"/>
<circle cx="234.3" cy="240.0" r="1.20" fill="#b4b4b4"/>
<circle cx="247.0" cy="243.8" r="1.20" fill="#b4b4b4"/>
<circle cx="235.3" cy="230.0" r="1.20" fill="#b4b4b4"/>
<circle cx="234.5" cy="241.9" r="1.20" fill="#b4b4b4"/>
<circle cx="228.9" cy="235.3" r="1.20" fill="#b4b4b4"/>
<circle cx="263.1" cy="255.0" r="1.20" fill="#b4b4b4"/>
<circle cx="269.3" cy="252.9" r="1.20" fill="#b4b4b4"/>
<circle cx="239.3" cy="248.6" r="1.20" fill="#b4b4b4"/>
<circle cx="272.3" cy="262.0" r="1.20" fill="#b4b4b4"/>
<circle cx="250.8" cy="248.6" r="1.20" fill="#b4b4b4"/>
<circle cx="224.0" cy="230.6" r="1.20" fill="#b4b4b4"/>
<circle cx="231.9" cy="246.5" r="1.20" fill="#b4b4b4"/>
<circle cx="262.1" cy="253.1" r="1.20" fill="#b4b4b4"/>
<circle cx="243.4" cy="240.8" r="1.20" fill="#b4b4b4"/>
<circle cx="251.0" cy="258.5" r="1.20" fill="#b4b4b4"/>
<circle cx="251.7" cy="238.4" r="1.20" fill="#b4b4b4"/>
<circle cx="254.9" cy="241.9" r="1.20" fill="#b4b4b4"/>
<circle cx="237.3" cy="246.5" r="1.20" fill="#b4b4b4"/>
<circle cx="266.7" cy="260.7" r="1.20" fill="#b4b4b4"/>
<circle cx="272.5" cy="256.5" r="1.20" fill="#b4b4b4"/>
<circle cx="254.0" cy="240.2" r="1.20" fill="#b4b4b4"/>
<circle cx="250.8" cy="243.2" r="1.20" fill="#b4b4b4"/>
<circle cx="242.3" cy="236.0" r="1.20" fill="#b4b4b4"/>
<circle cx="252.7" cy="250.4" r="1.20" fill="#b4b4b4"/>
<circle cx="256.9" cy="241.8" r="1.20" fill="#b4b4b4"/>
<circle cx="232.1" cy="248.4" r="1.20" fill="#b4b4b4"/>
<circle cx="271.1" cy="259.5" r="1.20" fill="#b4b4b4"/>
<circle cx="267.4" cy="260.5" r="1.20" fill="#b4b4b4"/>
<circle cx="228.2" cy="250.5" r="1.20" fill="#b4b4b4"/>
<circle cx="231.1" cy="245.4" r="1.20" fill="#b4b4b4"/>
<circle cx="231.6" cy="232.2" r="1.20" fill="#b4b4b4"/>
<circle cx="240.4" cy="242.6" r="1.20" fill="#b4b4b4"/>
<circle cx="223.3" cy="238.1" r="1.20" fill="#b4b4b4"/>
<circle cx="256.5" cy="260.5" r="1.20" fill="#b4b4b4"/>
<circle cx="231.1" cy="254.6" r="1.20" fill="#b4b4b4"/>
<circle cx="260.7" cy="246.3" r="1.20" fill="#b4b4b4"/>
<circle cx="234.7" cy="251.7" r="1.20" fill="#b4b4b4"/>
<circle cx="244.5" cy="247.9" r="1.20" fill="#b4b4b4"/>
<circle cx="240.3" cy="250.8" r="1.20" fill="#b4b4b4"/>
<circle cx="225.4" cy="233.5" r="1.20" fill="#b4b4b4"/>
<circle cx="277.2" cy="263.5" r="1.20" fill="#b4b4b4"/>
<circle cx="268.7" cy="268.0" r="1.20" fill="#b4b4b4"/>
<circle cx="271.5" cy="268.6" r="1.20" fill="#b4b4b4"/>
<circle cx="262.1" cy="244.5" r="1.20" fill="#b4b4b4"/>
<circle cx="243.5" cy="236.0" r="1.20" fill="#b4b4b4"/>
<circle cx="233.7" cy="253.1" r="1.20" fill="#b4b4b4"/>
<circle cx="228.0" cy="252.6" r="1.20" fill="#b4b4b4"/>
<circle cx="238.9" cy="244.0" r="1.20" fill="#b4b4b4"/>
<circle cx="233.4" cy="235.0" r="1.20" fill="#b4b4b4"/>
<circle cx="241.3" cy="229.1" r="1.20" fill="#b4b4b4"/>
<circle cx="260.4" cy="261.6" r="1.20" fill="#b4b4b4"/>
<circle cx="272.3" cy="253.7" r="1.20" fill="#b4b4b4"/>
<circle cx="235.4" cy="255.7" r="1.20" fill="#b4b4b4"/>
<circle cx="226.8" cy="226.8" r="1.20" fill="#b4b4b4"/>
<circle cx="265.3" cy="249.2" r="1.20" fill="#b4b4b4"/>
<circle cx="241.4" cy="233.1" r="1.20" fill="#b4b4b4"/>
<circle cx="276.4" cy="264.1" r="1.20" fill="#b4b4b4"/>
<circle cx="229.7" cy="246.7" r="1.20" fill="#b4b4b4"/>
<circle cx="227.9" cy="220.0" r="1.20" fill="#b4b4b4"/>
<circle cx="266.9" cy="261.1" r="1.20" fill="#b4b4b4"/>
<circle cx="241.4" cy="250.0" r="1.20" fill="#b4b4b4"/>
<circle cx="226.7" cy="231.9" r="1.20" fill="#b4b4b4"/>
<circle cx="237.8" cy="258.9" r="1.20" fill="#b4b4b4"/>
<circle cx="224.3" cy="230.5" r="1.20" fill="#b4b4b4"/>
<circle cx="228.6" cy="226.7" r="1.20" fill="#b4b4b4"/>
<circle cx="235.8" cy="256.7" r="1.20" fill="#b4b4b4"/>
<circle cx="236.4" cy="242.8" r="1.20" fill="#b4b4b4"/>
<circle cx="227.7" cy="251.9" r="1.20" fill="#b4b4b4"/>
<circle cx="256.0" cy="241.4" r="1.20" fill="#b4b4b4"/>
<circle cx="234.3" cy="250.1" r="1.20" fill="#b4b4b4"/>
<circle cx="261.2" cy="252.4" r="1.20" fill="#b4b4b4"/>
<circle cx="236.8" cy="246.2" r="1.20" fill="#b4b4b4"/>
<circle cx="239.5" cy="230.8" r="1.20" fill="#b4b4b4"/>
<circle cx="226.6" cy="232.6" r="1.20" fill="#b4b4b4"/>
<circle cx="259.2" cy="251.5" r="1.20" fill="#b4b4b4"/>
<circle cx="239.5" cy="235.0" r="1.20" fill="#b4b4b4"/>
<circle cx="240.1" cy="262.1" r="1.20" fill="#b4b4b4"/>
<circle cx="241.1" cy="246.3" r="1.20" fill="#b4b4b4"/>
<circle cx="255.0" cy="249.0" r="1.20" fill="#b4b4b4"/>
<circle cx="226.3" cy="251.0" r="1.20" fill="#b4b4b4"/>
<circle cx="238.6" cy="259.2" r="1.20" fill="#b4b4b4"/>
<circle cx="250.1" cy="262.9" r="1.20" fill="#b4b4b4"/>
<circle cx="230.8" cy="244.1" r="1.20" fill="#b4b4b4"/>
<circle cx="266.2" cy="269.2" r="1.20" fill="#b4b4b4"/>
<circle cx="228.1" cy="244.7" r="1.20" fill="#b4b4b4"/>
<circle cx="267.8" cy="265.2" r="1.20" fill="#b4b4b4"/>
<circle cx="269.9" cy="256.8" r="1.20" fill="#b4b4b4"/>
<circle cx="262.7" cy="252.7" r="1.20" fill="#b4b4b4"/>
<circle cx="276.9" cy="260.0" r="1.20" fill="#b4b4b4"/>
<circle cx="253.3" cy="246.2" r="1.20" fill="#b4b4b4"/>
<circle cx="244.6" cy="235.6" r="1.20" fill="#b4b4b4"/>
<circle cx="272.9" cy="261.6" r="1.20" fill="#b4b4b4"/>
<circle cx="265.8" cy="257.4" r="1.20" fill="#b4b4b4"/>
<circle cx="260.4" cy="250.6" r="1.20" fill="#b4b4b4"/>
<circle cx="260.8" cy="246.6" r="1.20" fill="#b4b4b4"/>
<circle cx="261.4" cy="248.2" r="1.20" fill="#b4b4b4"/>
<circle cx="258.8" cy="266.5" r="1.20" fill="#b4b4b4"/>
<circle cx="263.3" cy="255.9" r="1.20" fill="#b4b4b4"/>
<circle cx="257.1" cy="242.4" r="1.20" fill="#b4b4b4"/>
<circle cx="274.7" cy="263.5" r="1.20" fill="#b4b4b4"/>
<circle cx="269.8" cy="267.0" r="1.20" fill="#b4b4b4"/>
<circle cx="270.6" cy="263.3" r="1.20" fill="#b4b4b4"/>
<circle cx="270.4" cy="260.9" r="1.20" fill="#b4b4b4"/>
<circle cx="261.3" cy="255.0" r="1.20" fill="#b4b4b4"/>
<circle cx="262.2" cy="267.6" r="1.20" fill="#b4b4b4"/>
<circle cx="262.5" cy="264.6" r="1.20" fill="#b4b4b4"/>
<circle cx="258.0" cy="266.3" r="1.20" fill="#b4b4b4"/>
<circle cx="264.6" cy="267.5" r="1.20" fill="#b4b4b4"/>
<circle cx="269.4" cy="253.6" r="1.20" fill="#b4b4b4"/>
<circle cx="253.9" cy="248.4" r="1.20" fill="#b4b4b4"/>
<circle cx="262.6" cy="254.6" r="1.20" fill="#b4b4b4"/>
<circle cx="267.2" cy="256.8" r="1.20" fill="#b4b4b4"/>
<circle cx="256.7" cy="244.7" r="1.20" fill="#b4b4b4"/>
<circle cx="262.9" cy="267.9" r="1.20" fill="#b4b4b4"/>
<circle cx="272.4" cy="261.2" r="1.20" fill="#b4b4b4"/>
<circle cx="250.3" cy="254.7" r="1.20" fill="#b4b4b4"/>
<circle cx="260.1" cy="260.9" r="1.20" fill="#b4b4b4"/>
<circle cx="252.3" cy="259.5" r="1.20" fill="#b4b4b4"/>
<circle cx="252.7" cy="260.1" r="1.20" fill="#b4b4b4"/>
<circle cx="266.1" cy="261.8" r="1.20" fill="#b4b4b4"/>
<circle cx="250.5" cy="248.8" r="1.20" fill="#b4b4b4"/>
<circle cx="248.0" cy="252.4" r="1.20" fill="#b4b4b4"/>
<circle cx="270.7" cy="261.7" r="1.20" fill="#b4b4b4"/>
<circle cx="275.0" cy="262.2" r="1.20" fill="#b4b4b4"/>
<circle cx="273.7" cy="260.6" r="1.20" fill="#b4b4b4"/>
<circle cx="261.7" cy="245.2" r="1.20" fill="#b4b4b4"/>
<circle cx="250.2" cy="252.3" r="1.20" fill="#b4b4b4"/>
<circle cx="265.1" cy="250.6" r="1.20" fill="#b4b4b4"/>
<circle cx="265.8" cy="251.4" r="1.20" fill="#b4b4b4"/>
<circle cx="247.6" cy="255.9" r="1.20" fill="#b4b4b4"/>
<circle cx="251.4" cy="239.8" r="1.20" fill="#b4b4b4"/>
<circle cx="250.0" cy="258.3" r="1.20" fill="#b4b4b4"/>
<circle cx="254.2" cy="252.2" r="1.20" fill="#b4b4b4"/>
<circle cx="254.8" cy="256.9" r="1.20" fill="#b4b4b4"/>
<circle cx="266.3" cy="263.6" r="1.20" fill="#b4b4b4"/>
<circle cx="260.1" cy="254.8" r="1.20" fill="#b4b4b4"/>
<circle cx="250.1" cy="243.8" r="1.20" fill="#b4b4b4"/>
<circle cx="254.2" cy="245.0" r="1.20" fill="#b4b4b4"/>
<circle cx="263.1" cy="252.9" r="1.20" fill="#b4b4b4"/>
<circle cx="256.6" cy="258.5" r="1.20" fill="#b4b4b4"/>
<circle cx="260.4" cy="254.4" r="1.20" fill="#b4b4b4"/>
<circle cx="260.0" cy="254.8" r="1.20" fill="#b4b4b4"/>
<circle cx="252.6" cy="241.0" r="1.20" fill="#b4b4b4"/>
<circle cx="263.1" cy="267.5" r="1.20" fill="#b4b4b4"/>
<circle cx="250.1" cy="247.8" r="1.20" fill="#b4b4b4"/>
<circle cx="273.1" cy="259.5" r="1.20" fill="#b4b4b4"/>
<circle cx="259.7" cy="253.5" r="1.20" fill="#b4b4b4"/>
<circle cx="253.5" cy="256.8" r="1.20" fill="#b4b4b4"/>
<circle cx="249.3" cy="247.1" r="1.20" fill="#b4b4b4"/>
<circle cx="253.0" cy="256.3" r="1.20" fill="#b4b4b4"/>
<circle cx="259.1" cy="252.8" r="1.20" fill="#b4b4b4"/>
<circle cx="250.8" cy="241.9" r="1.20" fill="#b4b4b4"/>
<circle cx="266.9" cy="268.7" r="1.20" fill="#b4b4b4"/>
<circle cx="267.4" cy="262.9" r="1.20" fill="#b4b4b4"/>
<circle cx="269.4" cy="253.9" r="1.20" fill="#b4b4b4"/>
<circle cx="258.1" cy="252.6" r="1.20" fill="#b4b4b4"/>
<circle cx="263.3" cy="253.3" r="1.20" fill="#b4b4b4"/>
<circle cx="276.6" cy="263.7" r="1.20" fill="#b4b4b4"/>
<circle cx="275.9" cy="264.8" r="1.20" fill="#b4b4b4"/>
<circle cx="256.2" cy="245.4" r="1.20" fill="#b4b4b4"/>
<circle cx="262.2" cy="246.3" r="1.20" fill="#b4b4b4"/>
<circle cx="260.3" cy="259.7" r="1.20" fill="#b4b4b4"/>
<circle cx="251.5" cy="251.3" r="1.20" fill="#b4b4b4"/>
<circle cx="256.2" cy="245.4" r="1.20" fill="#b4b4b4"/>
<circle cx="267.8" cy="259.8" r="1.20" fill="#b4b4b4"/>
<circle cx="260.6" cy="254.8" r="1.20" fill="#b4b4b4"/>
<circle cx="225.3" cy="89.2" r="1.00" fill="#666666"/>
<circle cx="231.4" cy="95.3" r="1.00" fill="#666666"/>
<circle cx="235.2" cy="96.1" r="1.00" fill="#666666"/>
<circle cx="238.3" cy="107.6" r="1.00" fill="#666666"/>
<circle cx="240.6" cy="104.5" r="1.00" fill="#666666"/>
<circle cx="245.2" cy="100.7" r="1.00" fill="#666666"/>
<circle cx="248.2" cy="99.1" r="1.00" fill="#666666"/>
<circle cx="250.5" cy="93.8" r="1.00" fill="#666666"/>
<circle cx="249.7" cy="90.7" r="1.00" fill="#666666"/>
<circle cx="250.5" cy="84.6" r="1.00" fill="#666666"/>
<circle cx="237.5" cy="112.9" r="1.00" fill="#666666"/>
<circle cx="232.9" cy="116.7" r="1.00" fill="#666666"/>
<circle cx="235.2" cy="119.8" r="1.00" fill="#666666"/>
<circle cx="258.2" cy="83.1" r="1.00" fill="#666666"/>
<circle cx="204.6" cy="91.5" r="1.20" fill="#6fe0c6"/>
<circle cx="208.9" cy="95.8" r="1.20" fill="#6fe0c6"/>
<circle cx="214.5" cy="107.2" r="1.20" fill="#6fe0c6"/>
<circle cx="218.4" cy="118.0" r="1.20" fill="#6fe0c6"/>
<circle cx="222.7" cy="116.0" r="1.20" fill="#6fe0c6"/>
<circle cx="227.6" cy="120.1" r="1.20" fill="#6fe0c6"/>
<circle cx="240.1" cy="116.7" r="1.20" fill="#6fe0c6"/>
<circle cx="436.0" cy="39.3" r="1.00" fill="#8e8e8e"/>
<circle cx="438.1" cy="40.3" r="1.00" fill="#8e8e8e"/>
<circle cx="431.7" cy="41.4" r="1.00" fill="#8e8e8e"/>
<circle cx="441.3" cy="35.0" r="1.00" fill="#8e8e8e"/>
<circle cx="445.6" cy="36.0" r="1.00" fill="#8e8e8e"/>
<circle cx="443.4" cy="38.2" r="1.00" fill="#8e8e8e"/>
<circle cx="447.7" cy="39.3" r="1.00" fill="#8e8e8e"/>
<circle cx="450.9" cy="37.1" r="1.00" fill="#8e8e8e"/>
<circle cx="448.8" cy="44.6" r="1.00" fill="#8e8e8e"/>
<circle cx="446.0" cy="44.6" r="1.00" fill="#8e8e8e"/>
<circle cx="443.4" cy="45.7" r="1.00" fill="#8e8e8e"/>
<circle cx="439.2" cy="47.8" r="1.00" fill="#8e8e8e"/>
<circle cx="441.3" cy="53.2" r="1.00" fill="#8e8e8e"/>
<circle cx="443.0" cy="54.7" r="1.00" fill="#8e8e8e"/>
<circle cx="440.2" cy="57.4" r="1.00" fill="#8e8e8e"/>
<circle cx="429.5" cy="47.8" r="1.00" fill="#8e8e8e"/>
<circle cx="431.0" cy="48.9" r="1.00" fill="#8e8e8e"/>
<circle cx="426.3" cy="58.5" r="1.00" fill="#8e8e8e"/>
<circle cx="430.2" cy="64.9" r="1.00" fill="#8e8e8e"/>
<circle cx="424.6" cy="68.1" r="1.00" fill="#8e8e8e"/>
<circle cx="423.8" cy="70.9" r="1.00" fill="#8e8e8e"/>
<circle cx="427.4" cy="77.8" r="1.00" fill="#8e8e8e"/>
<circle cx="433.2" cy="74.5" r="1.00" fill="#8e8e8e"/>
<circle cx="421.0" cy="75.6" r="1.00" fill="#8e8e8e"/>
<circle cx="419.9" cy="82.0" r="1.00" fill="#8e8e8e"/>
<circle cx="426.3" cy="85.2" r="1.00" fill="#8e8e8e"/>
<circle cx="420.3" cy="87.4" r="1.00" fill="#8e8e8e"/>
<circle cx="440.2" cy="76.7" r="1.00" fill="#8e8e8e"/>
<circle cx="443.4" cy="76.7" r="1.00" fill="#8e8e8e"/>
<circle cx="446.7" cy="71.3" r="1.00" fill="#8e8e8e"/>
<circle cx="447.7" cy="66.0" r="1.00" fill="#8e8e8e"/>
<circle cx="448.8" cy="62.8" r="1.00" fill="#8e8e8e"/>
<circle cx="451.6" cy="79.5" r="1.00" fill="#8e8e8e"/>
<circle cx="445.6" cy="84.2" r="1.00" fill="#8e8e8e"/>
<circle cx="442.4" cy="83.7" r="1.00" fill="#8e8e8e"/>
<circle cx="452.0" cy="30.7" r="1.00" fill="#8e8e8e"/>
<circle cx="449.9" cy="28.6" r="1.00" fill="#8e8e8e"/>
<circle cx="450.9" cy="40.3" r="1.00" fill="#8e8e8e"/>
<circle cx="443.4" cy="69.2" r="1.00" fill="#8e8e8e"/>
<circle cx="419.0" cy="89.1" r="1.00" fill="#8e8e8e"/>
<circle cx="421.2" cy="91.0" r="1.00" fill="#8e8e8e"/>
<circle cx="417.6" cy="96.0" r="1.00" fill="#8e8e8e"/>
<circle cx="413.5" cy="100.1" r="1.00" fill="#8e8e8e"/>
<circle cx="420.4" cy="98.7" r="1.00" fill="#8e8e8e"/>
<circle cx="416.2" cy="103.7" r="1.00" fill="#8e8e8e"/>
<circle cx="420.4" cy="104.2" r="1.00" fill="#8e8e8e"/>
<circle cx="412.1" cy="107.0" r="1.00" fill="#8e8e8e"/>
<circle cx="416.2" cy="108.4" r="1.00" fill="#8e8e8e"/>
<circle cx="419.0" cy="110.3" r="1.00" fill="#8e8e8e"/>
<circle cx="425.9" cy="110.3" r="1.00" fill="#8e8e8e"/>
<circle cx="423.1" cy="110.3" r="1.00" fill="#8e8e8e"/>
<circle cx="413.5" cy="112.5" r="1.00" fill="#8e8e8e"/>
<circle cx="419.0" cy="118.0" r="1.00" fill="#8e8e8e"/>
<circle cx="414.9" cy="120.7" r="1.00" fill="#8e8e8e"/>
<circle cx="410.7" cy="122.1" r="1.00" fill="#8e8e8e"/>
<circle cx="408.0" cy="123.5" r="1.00" fill="#8e8e8e"/>
<circle cx="413.5" cy="124.9" r="1.00" fill="#8e8e8e"/>
<circle cx="416.2" cy="126.2" r="1.00" fill="#8e8e8e"/>
<circle cx="420.4" cy="130.4" r="1.00" fill="#8e8e8e"/>
<circle cx="412.1" cy="130.4" r="1.00" fill="#8e8e8e"/>
<circle cx="406.6" cy="130.4" r="1.00" fill="#8e8e8e"/>
<circle cx="402.5" cy="131.7" r="1.00" fill="#8e8e8e"/>
<circle cx="398.4" cy="134.5" r="1.00" fill="#8e8e8e"/>
<circle cx="413.5" cy="134.5" r="1.00" fill="#8e8e8e"/>
<circle cx="409.4" cy="140.0" r="1.00" fill="#8e8e8e"/>
<circle cx="399.7" cy="141.4" r="1.00" fill="#8e8e8e"/>
<circle cx="401.1" cy="144.1" r="1.00" fill="#8e8e8e"/>
<circle cx="397.0" cy="142.7" r="1.00" fill="#8e8e8e"/>
<circle cx="408.0" cy="146.9" r="1.00" fill="#8e8e8e"/>
<circle cx="432.7" cy="130.4" r="1.00" fill="#8e8e8e"/>
<circle cx="431.4" cy="94.6" r="1.00" fill="#8e8e8e"/>
<circle cx="439.6" cy="97.4" r="1.00" fill="#8e8e8e"/>
<circle cx="423.1" cy="120.7" r="1.00" fill="#8e8e8e"/>
<circle cx="424.5" cy="127.6" r="1.10" fill="#6fe0c6"/>
<circle cx="413.5" cy="135.9" r="1.10" fill="#6fe0c6"/>
<circle cx="439.6" cy="111.1" r="1.10" fill="#6fe0c6"/>
<circle cx="445.1" cy="101.5" r="1.10" fill="#6fe0c6"/>
<circle cx="446.5" cy="105.6" r="1.10" fill="#6fe0c6"/>
<circle cx="440.4" cy="91.9" r="1.10" fill="#6fe0c6"/>
<circle cx="448.6" cy="33.2" r="1.00" fill="#8e8e8e"/>
<circle cx="451.8" cy="34.3" r="1.00" fill="#8e8e8e"/>
<circle cx="455.0" cy="37.5" r="1.00" fill="#8e8e8e"/>
<circle cx="460.3" cy="34.3" r="1.00" fill="#8e8e8e"/>
<circle cx="463.5" cy="37.5" r="1.00" fill="#8e8e8e"/>
<circle cx="468.9" cy="33.2" r="1.00" fill="#8e8e8e"/>
<circle cx="472.1" cy="36.4" r="1.00" fill="#8e8e8e"/>
<circle cx="475.3" cy="38.6" r="1.00" fill="#8e8e8e"/>
<circle cx="481.7" cy="33.2" r="1.00" fill="#8e8e8e"/>
<circle cx="484.9" cy="35.3" r="1.00" fill="#8e8e8e"/>
<circle cx="488.1" cy="37.5" r="1.00" fill="#8e8e8e"/>
<circle cx="492.4" cy="33.2" r="1.00" fill="#8e8e8e"/>
<circle cx="448.6" cy="43.9" r="1.00" fill="#8e8e8e"/>
<circle cx="452.8" cy="46.0" r="1.00" fill="#8e8e8e"/>
<circle cx="446.4" cy="50.3" r="1.00" fill="#8e8e8e"/>
<circle cx="450.7" cy="51.4" r="1.00" fill="#8e8e8e"/>
<circle cx="456.0" cy="48.2" r="1.00" fill="#8e8e8e"/>
<circle cx="459.3" cy="43.9" r="1.00" fill="#8e8e8e"/>
<circle cx="462.5" cy="45.0" r="1.00" fill="#8e8e8e"/>
<circle cx="465.7" cy="48.2" r="1.00" fill="#8e8e8e"/>
<circle cx="469.9" cy="42.8" r="1.00" fill="#8e8e8e"/>
<circle cx="473.2" cy="51.4" r="1.00" fill="#8e8e8e"/>
<circle cx="477.4" cy="53.5" r="1.00" fill="#8e8e8e"/>
<circle cx="480.6" cy="50.3" r="1.00" fill="#8e8e8e"/>
<circle cx="481.7" cy="55.7" r="1.00" fill="#8e8e8e"/>
<circle cx="484.9" cy="52.5" r="1.00" fill="#8e8e8e"/>
<circle cx="489.2" cy="49.3" r="1.00" fill="#8e8e8e"/>
<circle cx="443.2" cy="53.5" r="1.00" fill="#8e8e8e"/>
<circle cx="442.1" cy="56.7" r="1.00" fill="#8e8e8e"/>
<circle cx="447.5" cy="63.2" r="1.00" fill="#8e8e8e"/>
<circle cx="452.8" cy="64.2" r="1.00" fill="#8e8e8e"/>
<circle cx="457.1" cy="63.2" r="1.00" fill="#8e8e8e"/>
<circle cx="461.4" cy="62.1" r="1.00" fill="#8e8e8e"/>
<circle cx="444.3" cy="72.8" r="1.00" fill="#8e8e8e"/>
<circle cx="450.7" cy="78.1" r="1.00" fill="#8e8e8e"/>
<circle cx="456.0" cy="71.7" r="1.00" fill="#8e8e8e"/>
<circle cx="459.3" cy="69.6" r="1.00" fill="#8e8e8e"/>
<circle cx="462.5" cy="66.4" r="1.00" fill="#8e8e8e"/>
<circle cx="448.6" cy="82.4" r="1.00" fill="#8e8e8e"/>
<circle cx="443.2" cy="84.5" r="1.00" fill="#8e8e8e"/>
<circle cx="477.4" cy="43.3" r="1.10" fill="#6fe0c6"/>
<circle cx="486.0" cy="47.1" r="1.10" fill="#6fe0c6"/>
<circle cx="489.2" cy="39.6" r="1.10" fill="#6fe0c6"/>
<circle cx="482.8" cy="63.2" r="1.10" fill="#6fe0c6"/>
<circle cx="474.2" cy="93.1" r="1.10" fill="#6fe0c6"/>
<circle cx="463.5" cy="92.0" r="1.10" fill="#6fe0c6"/>
<circle cx="498.8" cy="89.9" r="1.10" fill="#6fe0c6"/>
<circle cx="579.5" cy="73.5" r="1.10" fill="#8e8e8e"/>
<circle cx="585.9" cy="72.4" r="1.10" fill="#8e8e8e"/>
<circle cx="573.1" cy="78.9" r="1.10" fill="#8e8e8e"/>
<circle cx="585.9" cy="87.4" r="1.10" fill="#8e8e8e"/>
<circle cx="589.1" cy="85.3" r="1.10" fill="#8e8e8e"/>
<circle cx="569.9" cy="89.5" r="1.10" fill="#8e8e8e"/>
<circle cx="579.5" cy="93.8" r="1.10" fill="#8e8e8e"/>
<circle cx="585.9" cy="98.7" r="1.10" fill="#8e8e8e"/>
<circle cx="522.8" cy="75.6" r="1.10" fill="#8e8e8e"/>
<circle cx="559.2" cy="50.4" r="1.10" fill="#6fe0c6"/>
<circle cx="576.3" cy="91.0" r="1.10" fill="#6fe0c6"/>
<circle cx="603.5" cy="53.9" r="1.30" fill="#8e8e8e"/>
<circle cx="611.0" cy="51.8" r="1.30" fill="#8e8e8e"/>
<circle cx="623.9" cy="60.3" r="1.30" fill="#8e8e8e"/>
<circle cx="624.9" cy="62.5" r="1.30" fill="#8e8e8e"/>
<circle cx="619.6" cy="63.5" r="1.30" fill="#8e8e8e"/>
<circle cx="621.7" cy="67.8" r="1.30" fill="#8e8e8e"/>
<circle cx="617.4" cy="71.0" r="1.30" fill="#8e8e8e"/>
<circle cx="615.3" cy="68.9" r="1.30" fill="#8e8e8e"/>
<circle cx="630.3" cy="74.2" r="1.30" fill="#8e8e8e"/>
<circle cx="631.3" cy="76.4" r="1.30" fill="#8e8e8e"/>
<circle cx="628.1" cy="73.2" r="1.30" fill="#8e8e8e"/>
<circle cx="623.9" cy="76.4" r="1.30" fill="#8e8e8e"/>
<circle cx="629.2" cy="82.8" r="1.30" fill="#8e8e8e"/>
<circle cx="626.0" cy="83.9" r="1.30" fill="#8e8e8e"/>
<circle cx="622.8" cy="84.9" r="1.30" fill="#8e8e8e"/>
<circle cx="616.4" cy="82.8" r="1.30" fill="#8e8e8e"/>
<circle cx="613.2" cy="83.9" r="1.30" fill="#8e8e8e"/>
<circle cx="614.2" cy="87.1" r="1.30" fill="#8e8e8e"/>
<circle cx="617.4" cy="88.1" r="1.30" fill="#8e8e8e"/>
<circle cx="612.1" cy="90.3" r="1.30" fill="#8e8e8e"/>
<circle cx="616.4" cy="93.5" r="1.30" fill="#8e8e8e"/>
<circle cx="618.5" cy="94.5" r="1.30" fill="#8e8e8e"/>
<circle cx="623.9" cy="93.0" r="1.30" fill="#8e8e8e"/>
<circle cx="627.1" cy="95.2" r="1.30" fill="#8e8e8e"/>
<circle cx="630.3" cy="96.7" r="1.30" fill="#8e8e8e"/>
<circle cx="612.1" cy="98.8" r="1.30" fill="#8e8e8e"/>
<circle cx="615.3" cy="101.0" r="1.30" fill="#8e8e8e"/>
<circle cx="611.0" cy="103.1" r="1.30" fill="#8e8e8e"/>
<circle cx="614.2" cy="104.2" r="1.30" fill="#8e8e8e"/>
<circle cx="609.9" cy="106.3" r="1.30" fill="#8e8e8e"/>
<circle cx="606.7" cy="105.2" r="1.30" fill="#8e8e8e"/>
<circle cx="607.8" cy="108.4" r="1.30" fill="#8e8e8e"/>
<circle cx="601.4" cy="98.8" r="1.30" fill="#8e8e8e"/>
<circle cx="588.6" cy="84.9" r="1.30" fill="#8e8e8e"/>
<circle cx="587.5" cy="88.1" r="1.30" fill="#8e8e8e"/>
<circle cx="585.3" cy="97.8" r="1.30" fill="#8e8e8e"/>
<circle cx="599.3" cy="75.3" r="1.30" fill="#8e8e8e"/>
<circle cx="605.7" cy="63.5" r="1.30" fill="#8e8e8e"/>
<circle cx="607.8" cy="63.5" r="1.30" fill="#8e8e8e"/>
<circle cx="600.3" cy="67.8" r="1.30" fill="#8e8e8e"/>
<circle cx="587.5" cy="72.1" r="1.30" fill="#8e8e8e"/>
<circle cx="582.1" cy="61.4" r="1.30" fill="#8e8e8e"/>
<circle cx="644.2" cy="79.6" r="1.30" fill="#8e8e8e"/>
<circle cx="645.2" cy="82.8" r="1.30" fill="#8e8e8e"/>
<circle cx="648.4" cy="76.4" r="1.30" fill="#8e8e8e"/>
<circle cx="650.6" cy="74.2" r="1.30" fill="#8e8e8e"/>
<circle cx="633.5" cy="69.9" r="1.30" fill="#8e8e8e"/>
<circle cx="636.7" cy="72.1" r="1.30" fill="#8e8e8e"/>
<circle cx="639.9" cy="73.2" r="1.30" fill="#8e8e8e"/>
<circle cx="631.3" cy="53.3" r="1.20" fill="#6fe0c6"/>
<circle cx="613.2" cy="67.4" r="1.20" fill="#6fe0c6"/>
<circle cx="620.6" cy="67.8" r="1.20" fill="#6fe0c6"/>
<circle cx="623.9" cy="69.9" r="1.20" fill="#6fe0c6"/>
<circle cx="626.0" cy="79.6" r="1.20" fill="#6fe0c6"/>
<circle cx="590.7" cy="91.3" r="1.20" fill="#6fe0c6"/>
<circle cx="601.4" cy="99.9" r="1.20" fill="#6fe0c6"/>
<circle cx="590.7" cy="108.9" r="1.20" fill="#6fe0c6"/>
<circle cx="608.9" cy="102.4" r="1.30" fill="#8e8e8e"/>
<circle cx="612.6" cy="103.7" r="1.30" fill="#8e8e8e"/>
<circle cx="615.0" cy="106.1" r="1.30" fill="#8e8e8e"/>
<circle cx="618.7" cy="104.9" r="1.30" fill="#8e8e8e"/>
<circle cx="623.6" cy="102.9" r="1.30" fill="#8e8e8e"/>
<circle cx="616.3" cy="109.3" r="1.30" fill="#8e8e8e"/>
<circle cx="621.2" cy="107.3" r="1.30" fill="#8e8e8e"/>
<circle cx="605.3" cy="111.0" r="1.30" fill="#8e8e8e"/>
<circle cx="607.7" cy="113.5" r="1.30" fill="#8e8e8e"/>
<circle cx="612.6" cy="112.2" r="1.30" fill="#8e8e8e"/>
<circle cx="618.7" cy="113.5" r="1.30" fill="#8e8e8e"/>
<circle cx="604.0" cy="115.9" r="1.30" fill="#8e8e8e"/>
<circle cx="608.9" cy="118.3" r="1.30" fill="#8e8e8e"/>
<circle cx="613.8" cy="119.1" r="1.30" fill="#8e8e8e"/>
<circle cx="617.5" cy="120.8" r="1.30" fill="#8e8e8e"/>
<circle cx="622.4" cy="122.5" r="1.30" fill="#8e8e8e"/>
<circle cx="604.0" cy="122.0" r="1.30" fill="#8e8e8e"/>
<circle cx="602.8" cy="125.7" r="1.30" fill="#8e8e8e"/>
<circle cx="611.4" cy="126.9" r="1.30" fill="#8e8e8e"/>
<circle cx="591.8" cy="125.7" r="1.30" fill="#8e8e8e"/>
<circle cx="597.9" cy="129.4" r="1.30" fill="#8e8e8e"/>
<circle cx="602.8" cy="131.3" r="1.30" fill="#8e8e8e"/>
<circle cx="607.7" cy="130.6" r="1.30" fill="#8e8e8e"/>
<circle cx="616.3" cy="133.0" r="1.30" fill="#8e8e8e"/>
<circle cx="616.3" cy="136.7" r="1.30" fill="#8e8e8e"/>
<circle cx="596.7" cy="135.5" r="1.30" fill="#8e8e8e"/>
<circle cx="591.8" cy="137.9" r="1.30" fill="#8e8e8e"/>
<circle cx="590.6" cy="142.8" r="1.30" fill="#8e8e8e"/>
<circle cx="594.3" cy="144.0" r="1.30" fill="#8e8e8e"/>
<circle cx="600.4" cy="144.0" r="1.30" fill="#8e8e8e"/>
<circle cx="605.3" cy="141.6" r="1.30" fill="#8e8e8e"/>
<circle cx="608.9" cy="145.3" r="1.30" fill="#8e8e8e"/>
<circle cx="602.8" cy="147.7" r="1.30" fill="#8e8e8e"/>
<circle cx="586.9" cy="146.5" r="1.30" fill="#8e8e8e"/>
<circle cx="589.4" cy="151.4" r="1.30" fill="#8e8e8e"/>
<circle cx="584.5" cy="148.9" r="1.30" fill="#8e8e8e"/>
<circle cx="591.8" cy="156.3" r="1.30" fill="#8e8e8e"/>
<circle cx="595.5" cy="158.7" r="1.30" fill="#8e8e8e"/>
<circle cx="589.4" cy="159.9" r="1.30" fill="#8e8e8e"/>
<circle cx="579.6" cy="150.2" r="1.30" fill="#8e8e8e"/>
<circle cx="582.0" cy="155.0" r="1.30" fill="#8e8e8e"/>
<circle cx="577.1" cy="166.1" r="1.30" fill="#8e8e8e"/>
<circle cx="586.9" cy="166.1" r="1.30" fill="#8e8e8e"/>
<circle cx="591.8" cy="164.1" r="1.30" fill="#8e8e8e"/>
<circle cx="594.3" cy="168.5" r="1.30" fill="#8e8e8e"/>
<circle cx="580.8" cy="169.7" r="1.30" fill="#8e8e8e"/>
<circle cx="579.6" cy="173.4" r="1.30" fill="#8e8e8e"/>
<circle cx="574.7" cy="177.1" r="1.30" fill="#8e8e8e"/>
<circle cx="571.0" cy="175.8" r="1.30" fill="#8e8e8e"/>
<circle cx="567.3" cy="179.5" r="1.30" fill="#8e8e8e"/>
<circle cx="563.7" cy="163.6" r="1.30" fill="#8e8e8e"/>
<circle cx="569.8" cy="163.6" r="1.30" fill="#8e8e8e"/>
<circle cx="633.4" cy="111.0" r="1.30" fill="#8e8e8e"/>
<circle cx="571.0" cy="109.8" r="1.30" fill="#8e8e8e"/>
<circle cx="575.9" cy="110.3" r="1.20" fill="#6fe0c6"/>
<circle cx="590.6" cy="109.3" r="1.20" fill="#6fe0c6"/>
<circle cx="578.3" cy="123.2" r="1.20" fill="#6fe0c6"/>
<circle cx="582.0" cy="126.4" r="1.20" fill="#6fe0c6"/>
<circle cx="578.3" cy="129.4" r="1.20" fill="#6fe0c6"/>
<circle cx="584.5" cy="128.9" r="1.20" fill="#6fe0c6"/>
<circle cx="568.6" cy="137.9" r="1.20" fill="#6fe0c6"/>
<circle cx="571.0" cy="146.5" r="1.20" fill="#6fe0c6"/>
<circle cx="564.9" cy="153.3" r="1.20" fill="#6fe0c6"/>
<circle cx="567.3" cy="154.3" r="1.20" fill="#6fe0c6"/>
<circle cx="569.8" cy="153.8" r="1.20" fill="#6fe0c6"/>
<circle cx="585.7" cy="144.0" r="1.20" fill="#6fe0c6"/>
<circle cx="588.1" cy="152.6" r="1.20" fill="#6fe0c6"/>
<circle cx="580.8" cy="158.7" r="1.20" fill="#6fe0c6"/>
<circle cx="588.1" cy="151.4" r="1.20" fill="#6fe0c6"/>
<circle cx="591.8" cy="172.2" r="1.20" fill="#6fe0c6"/>
<circle cx="577.1" cy="157.5" r="1.20" fill="#6fe0c6"/>
<circle cx="584.5" cy="178.3" r="1.20" fill="#6fe0c6"/>
<circle cx="584.9" cy="145.9" r="1.30" fill="#8e8e8e"/>
<circle cx="587.4" cy="147.1" r="1.30" fill="#8e8e8e"/>
<circle cx="589.1" cy="144.2" r="1.30" fill="#8e8e8e"/>
<circle cx="592.3" cy="142.7" r="1.30" fill="#8e8e8e"/>
<circle cx="591.1" cy="138.6" r="1.30" fill="#8e8e8e"/>
<circle cx="594.7" cy="137.3" r="1.30" fill="#8e8e8e"/>
<circle cx="598.4" cy="136.1" r="1.30" fill="#8e8e8e"/>
<circle cx="600.8" cy="142.2" r="1.30" fill="#8e8e8e"/>
<circle cx="586.2" cy="153.2" r="1.30" fill="#8e8e8e"/>
<circle cx="589.1" cy="154.5" r="1.30" fill="#8e8e8e"/>
<circle cx="584.9" cy="155.7" r="1.30" fill="#8e8e8e"/>
<circle cx="589.8" cy="159.4" r="1.30" fill="#8e8e8e"/>
<circle cx="592.3" cy="161.8" r="1.30" fill="#8e8e8e"/>
<circle cx="595.9" cy="163.0" r="1.30" fill="#8e8e8e"/>
<circle cx="598.4" cy="160.6" r="1.30" fill="#8e8e8e"/>
<circle cx="587.4" cy="167.9" r="1.30" fill="#8e8e8e"/>
<circle cx="583.7" cy="167.9" r="1.30" fill="#8e8e8e"/>
<circle cx="581.3" cy="170.4" r="1.30" fill="#8e8e8e"/>
<circle cx="576.4" cy="165.5" r="1.30" fill="#8e8e8e"/>
<circle cx="566.6" cy="163.0" r="1.30" fill="#8e8e8e"/>
<circle cx="562.9" cy="169.1" r="1.30" fill="#8e8e8e"/>
<circle cx="564.1" cy="172.8" r="1.30" fill="#8e8e8e"/>
<circle cx="569.0" cy="174.0" r="1.30" fill="#8e8e8e"/>
<circle cx="566.6" cy="178.9" r="1.30" fill="#8e8e8e"/>
<circle cx="556.8" cy="175.3" r="1.30" fill="#8e8e8e"/>
<circle cx="553.1" cy="165.5" r="1.30" fill="#8e8e8e"/>
<circle cx="548.2" cy="181.4" r="1.30" fill="#8e8e8e"/>
<circle cx="550.7" cy="180.2" r="1.30" fill="#8e8e8e"/>
<circle cx="570.3" cy="181.4" r="1.30" fill="#8e8e8e"/>
<circle cx="572.7" cy="183.8" r="1.30" fill="#8e8e8e"/>
<circle cx="573.9" cy="191.2" r="1.30" fill="#8e8e8e"/>
<circle cx="582.5" cy="197.3" r="1.30" fill="#8e8e8e"/>
<circle cx="570.3" cy="194.8" r="1.30" fill="#8e8e8e"/>
<circle cx="571.5" cy="200.9" r="1.30" fill="#8e8e8e"/>
<circle cx="578.8" cy="177.7" r="1.30" fill="#8e8e8e"/>
<circle cx="559.3" cy="182.6" r="1.30" fill="#8e8e8e"/>
<circle cx="556.8" cy="186.3" r="1.30" fill="#8e8e8e"/>
<circle cx="569.0" cy="137.3" r="1.20" fill="#6fe0c6"/>
<circle cx="571.5" cy="147.1" r="1.20" fill="#6fe0c6"/>
<circle cx="565.4" cy="153.2" r="1.20" fill="#6fe0c6"/>
<circle cx="569.0" cy="154.5" r="1.20" fill="#6fe0c6"/>
<circle cx="567.8" cy="154.0" r="1.20" fill="#6fe0c6"/>
<circle cx="576.4" cy="150.8" r="1.20" fill="#6fe0c6"/>
<circle cx="571.5" cy="161.8" r="1.20" fill="#6fe0c6"/>
<circle cx="577.6" cy="164.3" r="1.20" fill="#6fe0c6"/>
<circle cx="581.3" cy="159.4" r="1.20" fill="#6fe0c6"/>
<circle cx="556.8" cy="170.4" r="1.20" fill="#6fe0c6"/>
<circle cx="565.4" cy="176.5" r="1.20" fill="#6fe0c6"/>
<circle cx="583.7" cy="178.9" r="1.20" fill="#6fe0c6"/>
<circle cx="591.1" cy="171.6" r="1.20" fill="#6fe0c6"/>
<circle cx="578.8" cy="178.9" r="1.20" fill="#6fe0c6"/>
<circle cx="398.2" cy="224.2" r="1.20" fill="#4a4a4a"/>
<circle cx="401.4" cy="224.2" r="1.20" fill="#4a4a4a"/>
<circle cx="406.3" cy="215.7" r="1.20" fill="#4a4a4a"/>
<circle cx="408.0" cy="214.4" r="1.20" fill="#4a4a4a"/>
<circle cx="411.7" cy="221.8" r="1.20" fill="#4a4a4a"/>
<circle cx="417.8" cy="224.2" r="1.20" fill="#4a4a4a"/>
<circle cx="420.2" cy="223.7" r="1.20" fill="#4a4a4a"/>
<circle cx="430.0" cy="219.8" r="1.20" fill="#4a4a4a"/>
<circle cx="419.0" cy="214.4" r="1.20" fill="#4a4a4a"/>
<circle cx="452.0" cy="219.3" r="1.20" fill="#4a4a4a"/>
<circle cx="454.5" cy="223.7" r="1.20" fill="#4a4a4a"/>
<circle cx="456.9" cy="225.5" r="1.20" fill="#4a4a4a"/>
<circle cx="460.6" cy="220.6" r="1.20" fill="#4a4a4a"/>
<circle cx="470.4" cy="209.6" r="1.20" fill="#4a4a4a"/>
<circle cx="467.9" cy="219.3" r="1.20" fill="#4a4a4a"/>
<circle cx="472.8" cy="221.8" r="1.20" fill="#4a4a4a"/>
<circle cx="460.6" cy="207.1" r="1.20" fill="#4a4a4a"/>
<circle cx="455.7" cy="215.7" r="1.20" fill="#4a4a4a"/>
<circle cx="404.3" cy="210.8" r="1.30" fill="#b4b4b4"/>
<circle cx="408.0" cy="213.2" r="1.30" fill="#b4b4b4"/>
<circle cx="420.2" cy="210.8" r="1.30" fill="#b4b4b4"/>
<circle cx="426.3" cy="219.3" r="1.30" fill="#b4b4b4"/>
<circle cx="417.8" cy="229.1" r="1.30" fill="#b4b4b4"/>
<circle cx="421.5" cy="230.3" r="1.30" fill="#b4b4b4"/>
<circle cx="426.3" cy="227.9" r="1.30" fill="#b4b4b4"/>
<circle cx="430.0" cy="234.0" r="1.30" fill="#b4b4b4"/>
<circle cx="433.7" cy="233.5" r="1.30" fill="#b4b4b4"/>
<circle cx="431.2" cy="236.5" r="1.30" fill="#b4b4b4"/>
<circle cx="425.1" cy="235.2" r="1.30" fill="#b4b4b4"/>
<circle cx="427.6" cy="237.7" r="1.30" fill="#b4b4b4"/>
<circle cx="434.9" cy="237.7" r="1.30" fill="#b4b4b4"/>
<circle cx="438.6" cy="240.1" r="1.30" fill="#b4b4b4"/>
<circle cx="441.0" cy="241.3" r="1.30" fill="#b4b4b4"/>
<circle cx="444.7" cy="242.6" r="1.30" fill="#b4b4b4"/>
<circle cx="448.3" cy="242.6" r="1.30" fill="#b4b4b4"/>
<circle cx="450.8" cy="237.7" r="1.30" fill="#b4b4b4"/>
<circle cx="445.9" cy="246.2" r="1.30" fill="#b4b4b4"/>
<circle cx="448.3" cy="247.5" r="1.30" fill="#b4b4b4"/>
<circle cx="453.2" cy="246.2" r="1.30" fill="#b4b4b4"/>
<circle cx="455.7" cy="245.0" r="1.30" fill="#b4b4b4"/>
<circle cx="459.4" cy="243.8" r="1.30" fill="#b4b4b4"/>
<circle cx="463.0" cy="247.5" r="1.30" fill="#b4b4b4"/>
<circle cx="465.5" cy="246.2" r="1.30" fill="#b4b4b4"/>
<circle cx="469.1" cy="242.6" r="1.30" fill="#b4b4b4"/>
<circle cx="471.6" cy="245.0" r="1.30" fill="#b4b4b4"/>
<circle cx="467.9" cy="238.9" r="1.30" fill="#b4b4b4"/>
<circle cx="464.2" cy="237.7" r="1.30" fill="#b4b4b4"/>
<circle cx="459.4" cy="238.9" r="1.30" fill="#b4b4b4"/>
<circle cx="450.8" cy="232.8" r="1.30" fill="#b4b4b4"/>
<circle cx="454.5" cy="235.2" r="1.30" fill="#b4b4b4"/>
<circle cx="433.7" cy="227.9" r="1.30" fill="#b4b4b4"/>
<circle cx="422.7" cy="214.4" r="1.30" fill="#b4b4b4"/>
<circle cx="441.0" cy="214.4" r="1.30" fill="#b4b4b4"/>
<circle cx="461.8" cy="231.6" r="1.30" fill="#b4b4b4"/>
<circle cx="422.7" cy="214.4" r="1.20" fill="#6fe0c6"/>
<circle cx="423.9" cy="225.5" r="1.20" fill="#6fe0c6"/>
<circle cx="439.8" cy="235.2" r="1.20" fill="#6fe0c6"/>
<circle cx="427.6" cy="240.9" r="1.20" fill="#6fe0c6"/>
<circle cx="450.8" cy="220.6" r="1.20" fill="#6fe0c6"/>
<circle cx="459.4" cy="218.9" r="1.20" fill="#6fe0c6"/>
<circle cx="459.4" cy="224.2" r="1.20" fill="#6fe0c6"/>
<circle cx="461.8" cy="229.1" r="1.20" fill="#6fe0c6"/>
<circle cx="460.6" cy="236.5" r="1.20" fill="#6fe0c6"/>
<circle cx="459.4" cy="242.6" r="1.20" fill="#6fe0c6"/>
<circle cx="450.8" cy="224.2" r="1.20" fill="#6fe0c6"/>
<circle cx="471.1" cy="208.4" r="1.20" fill="#4a4a4a"/>
<circle cx="472.3" cy="210.9" r="1.20" fill="#4a4a4a"/>
<circle cx="471.1" cy="217.0" r="1.20" fill="#4a4a4a"/>
<circle cx="473.6" cy="220.7" r="1.20" fill="#4a4a4a"/>
<circle cx="469.9" cy="219.4" r="1.20" fill="#4a4a4a"/>
<circle cx="467.4" cy="219.4" r="1.20" fill="#4a4a4a"/>
<circle cx="478.4" cy="214.6" r="1.20" fill="#4a4a4a"/>
<circle cx="482.1" cy="219.4" r="1.20" fill="#4a4a4a"/>
<circle cx="485.8" cy="218.2" r="1.20" fill="#4a4a4a"/>
<circle cx="488.2" cy="221.9" r="1.20" fill="#4a4a4a"/>
<circle cx="489.4" cy="219.4" r="1.20" fill="#4a4a4a"/>
<circle cx="479.7" cy="226.8" r="1.20" fill="#4a4a4a"/>
<circle cx="476.0" cy="224.3" r="1.20" fill="#4a4a4a"/>
<circle cx="474.8" cy="226.8" r="1.20" fill="#4a4a4a"/>
<circle cx="471.1" cy="209.7" r="1.20" fill="#4a4a4a"/>
<circle cx="472.3" cy="206.0" r="1.30" fill="#b4b4b4"/>
<circle cx="476.0" cy="212.1" r="1.30" fill="#b4b4b4"/>
<circle cx="484.6" cy="215.8" r="1.30" fill="#b4b4b4"/>
<circle cx="482.1" cy="230.5" r="1.30" fill="#b4b4b4"/>
<circle cx="480.9" cy="235.3" r="1.30" fill="#b4b4b4"/>
<circle cx="476.0" cy="239.0" r="1.30" fill="#b4b4b4"/>
<circle cx="468.7" cy="239.0" r="1.30" fill="#b4b4b4"/>
<circle cx="471.1" cy="241.5" r="1.30" fill="#b4b4b4"/>
<circle cx="478.4" cy="241.5" r="1.30" fill="#b4b4b4"/>
<circle cx="485.8" cy="237.8" r="1.30" fill="#b4b4b4"/>
<circle cx="490.7" cy="241.5" r="1.30" fill="#b4b4b4"/>
<circle cx="493.1" cy="243.9" r="1.30" fill="#b4b4b4"/>
<circle cx="488.2" cy="245.1" r="1.30" fill="#b4b4b4"/>
<circle cx="485.8" cy="247.6" r="1.30" fill="#b4b4b4"/>
<circle cx="482.1" cy="250.0" r="1.30" fill="#b4b4b4"/>
<circle cx="479.7" cy="252.5" r="1.30" fill="#b4b4b4"/>
<circle cx="490.7" cy="250.0" r="1.30" fill="#b4b4b4"/>
<circle cx="495.6" cy="247.6" r="1.30" fill="#b4b4b4"/>
<circle cx="498.0" cy="250.0" r="1.30" fill="#b4b4b4"/>
<circle cx="500.5" cy="253.7" r="1.30" fill="#b4b4b4"/>
<circle cx="504.1" cy="251.2" r="1.30" fill="#b4b4b4"/>
<circle cx="506.6" cy="254.9" r="1.30" fill="#b4b4b4"/>
<circle cx="509.0" cy="257.3" r="1.30" fill="#b4b4b4"/>
<circle cx="512.7" cy="257.3" r="1.30" fill="#b4b4b4"/>
<circle cx="515.1" cy="259.8" r="1.30" fill="#b4b4b4"/>
<circle cx="516.3" cy="253.7" r="1.30" fill="#b4b4b4"/>
<circle cx="520.0" cy="258.6" r="1.30" fill="#b4b4b4"/>
<circle cx="522.5" cy="261.0" r="1.30" fill="#b4b4b4"/>
<circle cx="501.7" cy="246.3" r="1.30" fill="#b4b4b4"/>
<circle cx="507.8" cy="241.5" r="1.30" fill="#b4b4b4"/>
<circle cx="511.5" cy="240.2" r="1.30" fill="#b4b4b4"/>
<circle cx="495.6" cy="237.8" r="1.30" fill="#b4b4b4"/>
<circle cx="496.8" cy="241.5" r="1.30" fill="#b4b4b4"/>
<circle cx="500.5" cy="237.8" r="1.30" fill="#b4b4b4"/>
<circle cx="501.7" cy="234.1" r="1.30" fill="#b4b4b4"/>
<circle cx="494.3" cy="229.2" r="1.30" fill="#b4b4b4"/>
<circle cx="467.4" cy="247.6" r="1.30" fill="#b4b4b4"/>
<circle cx="469.9" cy="250.7" r="1.30" fill="#b4b4b4"/>
<circle cx="473.6" cy="247.6" r="1.30" fill="#b4b4b4"/>
<circle cx="477.2" cy="246.3" r="1.30" fill="#b4b4b4"/>
<circle cx="479.7" cy="245.1" r="1.30" fill="#b4b4b4"/>
<circle cx="483.3" cy="242.7" r="1.30" fill="#b4b4b4"/>
<circle cx="488.2" cy="253.7" r="1.30" fill="#b4b4b4"/>
<circle cx="494.3" cy="254.9" r="1.30" fill="#b4b4b4"/>
<circle cx="476.0" cy="212.6" r="1.20" fill="#6fe0c6"/>
<circle cx="480.9" cy="216.5" r="1.20" fill="#6fe0c6"/>
<circle cx="487.0" cy="231.7" r="1.20" fill="#6fe0c6"/>
<circle cx="489.4" cy="228.0" r="1.20" fill="#6fe0c6"/>
<circle cx="500.5" cy="234.1" r="1.20" fill="#6fe0c6"/>
<circle cx="501.7" cy="239.0" r="1.20" fill="#6fe0c6"/>
<circle cx="502.9" cy="241.5" r="1.20" fill="#6fe0c6"/>
<circle cx="510.2" cy="243.9" r="1.20" fill="#6fe0c6"/>
<circle cx="494.3" cy="248.8" r="1.20" fill="#6fe0c6"/>
<circle cx="494.3" cy="252.5" r="1.20" fill="#6fe0c6"/>
<circle cx="431.7" cy="41.3" r="1.00" fill="#8e8e8e"/>
<circle cx="435.2" cy="39.5" r="1.00" fill="#8e8e8e"/>
<circle cx="441.6" cy="35.4" r="1.00" fill="#8e8e8e"/>
<circle cx="452.1" cy="30.2" r="1.00" fill="#8e8e8e"/>
<circle cx="452.1" cy="33.7" r="1.00" fill="#8e8e8e"/>
<circle cx="455.0" cy="36.0" r="1.00" fill="#8e8e8e"/>
<circle cx="451.5" cy="39.5" r="1.00" fill="#8e8e8e"/>
<circle cx="456.2" cy="42.4" r="1.00" fill="#8e8e8e"/>
<circle cx="464.4" cy="38.4" r="1.00" fill="#8e8e8e"/>
<circle cx="465.0" cy="43.6" r="1.00" fill="#8e8e8e"/>
<circle cx="469.1" cy="26.1" r="1.00" fill="#8e8e8e"/>
<circle cx="470.2" cy="32.5" r="1.00" fill="#8e8e8e"/>
<circle cx="470.2" cy="36.6" r="1.00" fill="#8e8e8e"/>
<circle cx="474.9" cy="37.2" r="1.00" fill="#8e8e8e"/>
<circle cx="473.7" cy="40.1" r="1.00" fill="#8e8e8e"/>
<circle cx="478.4" cy="35.4" r="1.00" fill="#8e8e8e"/>
<circle cx="480.7" cy="30.2" r="1.00" fill="#8e8e8e"/>
<circle cx="483.1" cy="32.5" r="1.00" fill="#8e8e8e"/>
<circle cx="485.4" cy="33.7" r="1.00" fill="#8e8e8e"/>
<circle cx="487.7" cy="26.1" r="1.00" fill="#8e8e8e"/>
<circle cx="490.1" cy="31.4" r="1.00" fill="#8e8e8e"/>
<circle cx="492.4" cy="29.0" r="1.00" fill="#8e8e8e"/>
<circle cx="493.6" cy="36.0" r="1.00" fill="#8e8e8e"/>
<circle cx="488.9" cy="39.5" r="1.00" fill="#8e8e8e"/>
<circle cx="483.6" cy="41.9" r="1.00" fill="#8e8e8e"/>
<circle cx="478.4" cy="40.1" r="1.00" fill="#8e8e8e"/>
<circle cx="490.1" cy="39.5" r="1.10" fill="#6fe0c6"/>
<circle cx="479.6" cy="41.9" r="1.10" fill="#6fe0c6"/>
<circle cx="477.2" cy="43.6" r="1.10" fill="#6fe0c6"/>
<circle cx="485.4" cy="47.1" r="1.10" fill="#6fe0c6"/>
<circle cx="496.5" cy="26.1" r="1.10" fill="#6fe0c6"/>
<circle cx="428.7" cy="231.4" r="1.30" fill="#b4b4b4"/>
<circle cx="435.5" cy="236.3" r="1.30" fill="#b4b4b4"/>
<circle cx="427.5" cy="235.6" r="1.30" fill="#b4b4b4"/>
<circle cx="519.3" cy="253.9" r="1.30" fill="#b4b4b4"/>
<circle cx="506.9" cy="250.0" r="1.30" fill="#b4b4b4"/>
<circle cx="436.2" cy="237.2" r="1.30" fill="#b4b4b4"/>
<circle cx="522.4" cy="260.0" r="1.30" fill="#b4b4b4"/>
<circle cx="454.8" cy="243.4" r="1.30" fill="#b4b4b4"/>
<circle cx="442.0" cy="236.6" r="1.30" fill="#b4b4b4"/>
<circle cx="466.2" cy="249.0" r="1.30" fill="#b4b4b4"/>
<circle cx="484.4" cy="250.9" r="1.30" fill="#b4b4b4"/>
<circle cx="532.4" cy="256.9" r="1.30" fill="#b4b4b4"/>
<circle cx="529.3" cy="257.5" r="1.30" fill="#b4b4b4"/>
<circle cx="469.0" cy="242.8" r="1.30" fill="#b4b4b4"/>
<circle cx="427.8" cy="230.5" r="1.30" fill="#b4b4b4"/>
<circle cx="451.5" cy="240.9" r="1.30" fill="#b4b4b4"/>
<circle cx="478.2" cy="245.9" r="1.30" fill="#b4b4b4"/>
<circle cx="430.7" cy="231.8" r="1.30" fill="#b4b4b4"/>
<circle cx="452.6" cy="241.6" r="1.30" fill="#b4b4b4"/>
<circle cx="526.6" cy="257.8" r="1.30" fill="#b4b4b4"/>
<circle cx="522.3" cy="255.4" r="1.30" fill="#b4b4b4"/>
<circle cx="447.6" cy="236.4" r="1.30" fill="#b4b4b4"/>
<circle cx="444.6" cy="235.6" r="1.30" fill="#b4b4b4"/>
<circle cx="501.6" cy="257.6" r="1.30" fill="#b4b4b4"/>
<circle cx="533.7" cy="256.9" r="1.30" fill="#b4b4b4"/>
<circle cx="435.9" cy="233.6" r="1.30" fill="#b4b4b4"/>
<circle cx="533.1" cy="257.8" r="1.30" fill="#b4b4b4"/>
<circle cx="463.8" cy="248.3" r="1.30" fill="#b4b4b4"/>
<circle cx="451.5" cy="238.8" r="1.30" fill="#b4b4b4"/>
<circle cx="452.4" cy="243.5" r="1.30" fill="#b4b4b4"/>
<circle cx="464.2" cy="245.0" r="1.30" fill="#b4b4b4"/>
<circle cx="482.7" cy="247.7" r="1.30" fill="#b4b4b4"/>
<circle cx="460.7" cy="247.2" r="1.30" fill="#b4b4b4"/>
<circle cx="451.1" cy="238.2" r="1.30" fill="#b4b4b4"/>
<circle cx="476.5" cy="247.7" r="1.30" fill="#b4b4b4"/>
<circle cx="429.1" cy="236.9" r="1.30" fill="#b4b4b4"/>
<circle cx="518.0" cy="261.2" r="1.30" fill="#b4b4b4"/>
<circle cx="469.8" cy="246.0" r="1.30" fill="#b4b4b4"/>
<circle cx="444.5" cy="239.8" r="1.30" fill="#b4b4b4"/>
<circle cx="433.1" cy="237.8" r="1.30" fill="#b4b4b4"/>
<circle cx="491.3" cy="253.9" r="1.30" fill="#b4b4b4"/>
<circle cx="433.7" cy="234.0" r="1.30" fill="#b4b4b4"/>
<circle cx="426.3" cy="235.5" r="1.30" fill="#b4b4b4"/>
<circle cx="459.0" cy="239.3" r="1.30" fill="#b4b4b4"/>
<circle cx="469.1" cy="246.7" r="1.30" fill="#b4b4b4"/>
<circle cx="508.3" cy="251.5" r="1.30" fill="#b4b4b4"/>
<circle cx="426.8" cy="232.8" r="1.30" fill="#b4b4b4"/>
<circle cx="456.6" cy="245.0" r="1.30" fill="#b4b4b4"/>
<circle cx="458.7" cy="241.2" r="1.30" fill="#b4b4b4"/>
<circle cx="479.3" cy="246.6" r="1.30" fill="#b4b4b4"/>
<circle cx="493.2" cy="247.6" r="1.30" fill="#b4b4b4"/>
<circle cx="513.8" cy="252.3" r="1.30" fill="#b4b4b4"/>
<circle cx="510.5" cy="251.8" r="1.30" fill="#b4b4b4"/>
<circle cx="511.7" cy="258.1" r="1.30" fill="#b4b4b4"/>
<circle cx="520.6" cy="258.6" r="1.30" fill="#b4b4b4"/>
<circle cx="505.4" cy="253.7" r="1.30" fill="#b4b4b4"/>
<circle cx="436.6" cy="241.3" r="1.30" fill="#b4b4b4"/>
<circle cx="489.8" cy="251.2" r="1.30" fill="#b4b4b4"/>
<circle cx="498.3" cy="253.2" r="1.30" fill="#b4b4b4"/>
<circle cx="519.7" cy="255.7" r="1.30" fill="#b4b4b4"/>
<circle cx="193.8" cy="28.9" r="1.20" fill="#6fe0c6"/>
<circle cx="209.0" cy="44.1" r="1.20" fill="#6fe0c6"/>
<circle cx="209.0" cy="48.3" r="1.20" fill="#6fe0c6"/>
<circle cx="226.0" cy="42.7" r="1.20" fill="#6fe0c6"/>
<circle cx="223.0" cy="44.5" r="1.20" fill="#6fe0c6"/>
<circle cx="431.0" cy="30.3" r="1.70" fill="#3a22e6"/>
<circle cx="430.2" cy="33.9" r="1.70" fill="#3a22e6"/>
<circle cx="433.2" cy="35.0" r="1.70" fill="#3a22e6"/>
<circle cx="431.7" cy="34.5" r="1.70" fill="#3a22e6"/>
<circle cx="438.5" cy="35.4" r="1.70" fill="#3a22e6"/>
<circle cx="436.6" cy="42.5" r="1.70" fill="#3a22e6"/>
<circle cx="428.0" cy="45.2" r="1.70" fill="#3a22e6"/>
<circle cx="428.5" cy="46.7" r="1.70" fill="#3a22e6"/>
<circle cx="425.9" cy="51.7" r="1.70" fill="#3a22e6"/>
<circle cx="422.5" cy="52.5" r="1.70" fill="#3a22e6"/>
<circle cx="420.3" cy="57.6" r="1.70" fill="#3a22e6"/>
<circle cx="417.4" cy="77.8" r="1.70" fill="#3a22e6"/>
<circle cx="416.7" cy="76.7" r="1.70" fill="#3a22e6"/>
<circle cx="446.7" cy="26.0" r="1.70" fill="#3a22e6"/>
<circle cx="449.4" cy="24.3" r="1.70" fill="#3a22e6"/>
<circle cx="445.6" cy="30.3" r="1.70" fill="#3a22e6"/>
<circle cx="446.7" cy="33.3" r="1.70" fill="#3a22e6"/>
<circle cx="412.1" cy="93.2" r="1.70" fill="#3a22e6"/>
<circle cx="412.1" cy="95.4" r="1.70" fill="#3a22e6"/>
<circle cx="404.7" cy="115.2" r="1.70" fill="#3a22e6"/>
<circle cx="408.0" cy="113.3" r="1.70" fill="#3a22e6"/>
<circle cx="395.6" cy="124.9" r="1.70" fill="#3a22e6"/>
<circle cx="402.5" cy="125.7" r="1.70" fill="#3a22e6"/>
<circle cx="387.4" cy="138.6" r="1.70" fill="#3a22e6"/>
<circle cx="390.1" cy="140.0" r="1.70" fill="#3a22e6"/>
<circle cx="393.7" cy="140.0" r="1.70" fill="#3a22e6"/>
<circle cx="390.1" cy="144.1" r="1.70" fill="#3a22e6"/>
<circle cx="383.2" cy="147.7" r="1.70" fill="#3a22e6"/>
<circle cx="394.8" cy="147.7" r="1.70" fill="#3a22e6"/>
<circle cx="399.2" cy="146.9" r="1.70" fill="#3a22e6"/>
<circle cx="387.4" cy="153.7" r="1.70" fill="#3a22e6"/>
<circle cx="399.7" cy="149.6" r="1.70" fill="#3a22e6"/>
<circle cx="446.0" cy="32.6" r="1.60" fill="#3a22e6"/>
<circle cx="458.2" cy="33.2" r="1.60" fill="#3a22e6"/>
<circle cx="464.6" cy="33.9" r="1.60" fill="#3a22e6"/>
<circle cx="473.2" cy="30.6" r="1.60" fill="#3a22e6"/>
<circle cx="382.8" cy="147.7" r="1.70" fill="#3a22e6"/>
<circle cx="387.7" cy="153.8" r="1.70" fill="#3a22e6"/>
<circle cx="389.2" cy="143.7" r="1.70" fill="#3a22e6"/>
<circle cx="393.8" cy="147.0" r="1.70" fill="#3a22e6"/>
<circle cx="399.8" cy="147.0" r="1.70" fill="#3a22e6"/>
<circle cx="394.6" cy="220.6" r="1.70" fill="#3a22e6"/>
<circle cx="391.6" cy="229.1" r="1.70" fill="#3a22e6"/>
<circle cx="397.0" cy="227.9" r="1.70" fill="#3a22e6"/>
<circle cx="398.2" cy="230.3" r="1.70" fill="#3a22e6"/>
<circle cx="399.4" cy="226.2" r="1.70" fill="#3a22e6"/>
<circle cx="401.9" cy="225.5" r="1.70" fill="#3a22e6"/>
<circle cx="403.9" cy="228.6" r="1.70" fill="#3a22e6"/>
<circle cx="405.6" cy="232.8" r="1.70" fill="#3a22e6"/>
<circle cx="411.7" cy="231.6" r="1.70" fill="#3a22e6"/>
<circle cx="412.9" cy="234.0" r="1.70" fill="#3a22e6"/>
<circle cx="415.3" cy="235.2" r="1.70" fill="#3a22e6"/>
<circle cx="419.0" cy="236.5" r="1.70" fill="#3a22e6"/>
<circle cx="421.5" cy="238.9" r="1.70" fill="#3a22e6"/>
<circle cx="422.7" cy="241.3" r="1.70" fill="#3a22e6"/>
<circle cx="427.6" cy="241.3" r="1.70" fill="#3a22e6"/>
<circle cx="430.0" cy="244.3" r="1.70" fill="#3a22e6"/>
<circle cx="432.5" cy="246.7" r="1.70" fill="#3a22e6"/>
<circle cx="434.9" cy="245.0" r="1.70" fill="#3a22e6"/>
<circle cx="437.3" cy="243.3" r="1.70" fill="#3a22e6"/>
<circle cx="439.1" cy="248.2" r="1.70" fill="#3a22e6"/>
<circle cx="441.0" cy="249.2" r="1.70" fill="#3a22e6"/>
<circle cx="443.5" cy="249.9" r="1.70" fill="#3a22e6"/>
<circle cx="445.9" cy="250.6" r="1.70" fill="#3a22e6"/>
<circle cx="449.6" cy="251.6" r="1.70" fill="#3a22e6"/>
<circle cx="452.0" cy="252.3" r="1.70" fill="#3a22e6"/>
<circle cx="458.1" cy="253.1" r="1.70" fill="#3a22e6"/>
<circle cx="460.6" cy="253.6" r="1.70" fill="#3a22e6"/>
<circle cx="463.0" cy="253.1" r="1.70" fill="#3a22e6"/>
<circle cx="471.6" cy="251.1" r="1.70" fill="#3a22e6"/>
<circle cx="474.0" cy="254.1" r="1.70" fill="#3a22e6"/>
<circle cx="472.3" cy="253.7" r="1.80" fill="#3a22e6"/>
<circle cx="474.8" cy="255.6" r="1.80" fill="#3a22e6"/>
<circle cx="477.2" cy="256.1" r="1.80" fill="#3a22e6"/>
<circle cx="482.1" cy="257.3" r="1.80" fill="#3a22e6"/>
<circle cx="484.1" cy="258.1" r="1.80" fill="#3a22e6"/>
<circle cx="490.7" cy="258.1" r="1.80" fill="#3a22e6"/>
<circle cx="493.1" cy="259.1" r="1.80" fill="#3a22e6"/>
<circle cx="495.6" cy="260.5" r="1.80" fill="#3a22e6"/>
<circle cx="500.5" cy="259.1" r="1.80" fill="#3a22e6"/>
<circle cx="502.9" cy="260.5" r="1.80" fill="#3a22e6"/>
<circle cx="505.3" cy="261.5" r="1.80" fill="#3a22e6"/>
<circle cx="507.8" cy="262.2" r="1.80" fill="#3a22e6"/>
<circle cx="511.9" cy="263.9" r="1.80" fill="#3a22e6"/>
<circle cx="517.6" cy="264.7" r="1.80" fill="#3a22e6"/>
<circle cx="520.7" cy="265.9" r="1.80" fill="#3a22e6"/>
<circle cx="527.3" cy="266.4" r="1.80" fill="#3a22e6"/>
<circle cx="529.8" cy="267.1" r="1.80" fill="#3a22e6"/>
<circle cx="564.0" cy="204.8" r="1.80" fill="#3a22e6"/>
<circle cx="466.2" cy="247.6" r="1.80" fill="#3a22e6"/>
<circle cx="457.4" cy="26.1" r="1.80" fill="#3a22e6"/>
<circle cx="460.3" cy="23.8" r="1.80" fill="#3a22e6"/>
<circle cx="465.5" cy="23.4" r="1.80" fill="#3a22e6"/>
<circle cx="473.7" cy="24.6" r="1.80" fill="#3a22e6"/>
<circle cx="472.6" cy="26.7" r="1.80" fill="#3a22e6"/>
<circle cx="474.9" cy="26.7" r="1.80" fill="#3a22e6"/>
<circle cx="480.7" cy="23.4" r="1.80" fill="#3a22e6"/>
<circle cx="483.6" cy="22.9" r="1.80" fill="#3a22e6"/>
<circle cx="485.4" cy="23.8" r="1.80" fill="#3a22e6"/>
<circle cx="488.9" cy="22.0" r="1.80" fill="#3a22e6"/>
<circle cx="493.6" cy="21.4" r="1.80" fill="#3a22e6"/>
<circle cx="495.9" cy="21.1" r="1.80" fill="#3a22e6"/>
<circle cx="459.1" cy="29.0" r="1.80" fill="#3a22e6"/>
<circle cx="476.1" cy="25.5" r="1.80" fill="#3a22e6"/>
<circle cx="471.4" cy="25.7" r="1.80" fill="#3a22e6"/>
<circle cx="479.0" cy="24.9" r="1.80" fill="#3a22e6"/>
<circle cx="125.3" cy="61.3" r="3.91" fill="url(#gc)"/>
<circle cx="114.3" cy="67.9" r="3.67" fill="url(#gc)"/>
<circle cx="115.5" cy="71.1" r="3.43" fill="url(#gc)"/>
<circle cx="153.4" cy="80.2" r="3.67" fill="url(#gc)"/>
<circle cx="157.8" cy="82.6" r="3.18" fill="url(#gc)"/>
<circle cx="158.8" cy="91.2" r="2.94" fill="url(#gc)"/>
<circle cx="158.8" cy="100.9" r="2.94" fill="url(#gc)"/>
<circle cx="116.6" cy="126.4" r="3.18" fill="url(#gt)"/>
<circle cx="142.1" cy="144.8" r="3.18" fill="url(#gc)"/>
<circle cx="153.3" cy="147.7" r="2.94" fill="url(#gc)"/>
<circle cx="150.9" cy="151.4" r="3.18" fill="url(#gc)"/>
<circle cx="163.1" cy="155.0" r="2.94" fill="url(#gc)"/>
<circle cx="175.8" cy="153.8" r="2.94" fill="url(#gc)"/>
<circle cx="164.8" cy="109.3" r="3.18" fill="url(#gc)"/>
<circle cx="171.4" cy="123.2" r="2.94" fill="url(#gc)"/>
<circle cx="175.8" cy="129.4" r="2.94" fill="url(#gc)"/>
<circle cx="138.7" cy="170.9" r="2.94" fill="url(#gc)"/>
<circle cx="142.8" cy="177.8" r="2.94" fill="url(#gc)"/>
<circle cx="151.4" cy="178.3" r="3.18" fill="url(#gc)"/>
<circle cx="162.4" cy="101.2" r="3.43" fill="url(#gc)"/>
<circle cx="173.4" cy="117.1" r="2.69" fill="url(#gl)"/>
<circle cx="227.5" cy="101.2" r="3.43" fill="url(#gd)"/>
<circle cx="232.4" cy="102.4" r="3.43" fill="url(#gd)"/>
<circle cx="237.3" cy="101.2" r="3.18" fill="url(#gd)"/>
<circle cx="216.5" cy="101.2" r="3.43" fill="url(#gg)"/>
<circle cx="233.6" cy="108.6" r="3.43" fill="url(#gg)"/>
<circle cx="229.9" cy="111.0" r="3.18" fill="url(#gg)"/>
<circle cx="200.6" cy="104.9" r="3.67" fill="url(#gl)"/>
<circle cx="205.5" cy="103.7" r="3.67" fill="url(#gl)"/>
<circle cx="204.3" cy="108.6" r="3.43" fill="url(#gl)"/>
<circle cx="199.4" cy="109.8" r="3.43" fill="url(#gl)"/>
<circle cx="173.7" cy="117.1" r="2.94" fill="url(#gl)"/>
<circle cx="205.5" cy="118.3" r="3.43" fill="url(#gg)"/>
<circle cx="211.6" cy="117.1" r="3.43" fill="url(#gg)"/>
<circle cx="215.3" cy="120.8" r="3.18" fill="url(#gg)"/>
<circle cx="225.0" cy="123.2" r="3.43" fill="url(#gg)"/>
<circle cx="228.7" cy="126.9" r="3.18" fill="url(#gg)"/>
<circle cx="194.5" cy="125.7" r="3.18" fill="url(#gl)"/>
<circle cx="189.6" cy="129.4" r="3.18" fill="url(#gl)"/>
<circle cx="204.3" cy="126.9" r="3.43" fill="url(#gg)"/>
<circle cx="209.1" cy="128.1" r="3.43" fill="url(#gg)"/>
<circle cx="216.5" cy="130.6" r="3.18" fill="url(#gg)"/>
<circle cx="220.2" cy="133.0" r="3.18" fill="url(#gg)"/>
<circle cx="222.6" cy="135.5" r="3.18" fill="url(#gg)"/>
<circle cx="196.9" cy="136.7" r="3.43" fill="url(#gg)"/>
<circle cx="201.8" cy="142.8" r="3.18" fill="url(#gg)"/>
<circle cx="206.7" cy="145.3" r="3.18" fill="url(#gg)"/>
<circle cx="217.7" cy="142.8" r="3.18" fill="url(#gg)"/>
<circle cx="204.3" cy="136.7" r="3.43" fill="url(#gl)"/>
<circle cx="182.2" cy="145.3" r="3.18" fill="url(#gl)"/>
<circle cx="188.3" cy="142.8" r="3.18" fill="url(#gl)"/>
<circle cx="194.5" cy="147.7" r="3.18" fill="url(#gl)"/>
<circle cx="193.2" cy="152.6" r="3.18" fill="url(#gl)"/>
<circle cx="212.8" cy="141.6" r="3.43" fill="url(#gd)"/>
<circle cx="214.0" cy="147.7" r="3.18" fill="url(#gd)"/>
<circle cx="209.1" cy="150.2" r="2.94" fill="url(#gd)"/>
<circle cx="207.9" cy="153.8" r="3.18" fill="url(#gg)"/>
<circle cx="204.3" cy="158.7" r="3.18" fill="url(#gg)"/>
<circle cx="196.9" cy="167.3" r="3.18" fill="url(#gg)"/>
<circle cx="204.3" cy="166.1" r="2.94" fill="url(#gg)"/>
<circle cx="195.7" cy="177.1" r="3.18" fill="url(#gg)"/>
<circle cx="206.7" cy="173.4" r="2.94" fill="url(#gg)"/>
<circle cx="199.4" cy="162.4" r="3.18" fill="url(#gl)"/>
<circle cx="193.2" cy="159.9" r="3.18" fill="url(#gl)"/>
<circle cx="214.0" cy="158.7" r="2.69" fill="url(#gl)"/>
<circle cx="190.8" cy="166.1" r="3.18" fill="url(#gl)"/>
<circle cx="194.5" cy="172.2" r="3.18" fill="url(#gl)"/>
<circle cx="188.3" cy="173.4" r="3.18" fill="url(#gl)"/>
<circle cx="184.7" cy="177.1" r="3.18" fill="url(#gl)"/>
<circle cx="189.6" cy="111.0" r="2.94" fill="url(#gc)"/>
<circle cx="172.0" cy="123.2" r="2.69" fill="url(#gc)"/>
<circle cx="176.1" cy="129.4" r="2.94" fill="url(#gc)"/>
<circle cx="187.1" cy="137.9" r="2.94" fill="url(#gc)"/>
<circle cx="176.1" cy="153.8" r="2.94" fill="url(#gc)"/>
<circle cx="189.1" cy="154.3" r="2.94" fill="url(#gc)"/>
<circle cx="190.1" cy="157.5" r="2.69" fill="url(#gc)"/>
<circle cx="203.8" cy="172.2" r="2.94" fill="url(#gc)"/>
<circle cx="163.3" cy="53.6" r="3.00" fill="url(#gg)"/>
<circle cx="161.8" cy="63.6" r="2.78" fill="url(#gg)"/>
<circle cx="171.4" cy="64.3" r="3.21" fill="url(#gg)"/>
<circle cx="169.3" cy="68.5" r="3.00" fill="url(#gg)"/>
<circle cx="192.2" cy="62.5" r="3.21" fill="url(#gg)"/>
<circle cx="188.5" cy="68.5" r="3.00" fill="url(#gg)"/>
<circle cx="197.5" cy="74.5" r="3.00" fill="url(#gg)"/>
<circle cx="192.4" cy="81.4" r="3.00" fill="url(#gg)"/>
<circle cx="186.0" cy="87.4" r="3.00" fill="url(#gg)"/>
<circle cx="197.1" cy="91.0" r="3.21" fill="url(#gg)"/>
<circle cx="185.3" cy="94.2" r="2.78" fill="url(#gg)"/>
<circle cx="199.7" cy="53.6" r="3.43" fill="url(#gc)"/>
<circle cx="177.4" cy="78.2" r="3.43" fill="url(#gc)"/>
<circle cx="170.8" cy="91.0" r="3.00" fill="url(#gc)"/>
<circle cx="198.5" cy="162.8" r="2.94" fill="url(#gg)"/>
<circle cx="204.0" cy="157.3" r="2.94" fill="url(#gg)"/>
<circle cx="207.7" cy="153.7" r="2.57" fill="url(#gg)"/>
<circle cx="215.0" cy="158.3" r="2.57" fill="url(#gg)"/>
<circle cx="201.3" cy="161.0" r="2.75" fill="url(#gg)"/>
<circle cx="204.0" cy="166.5" r="2.57" fill="url(#gg)"/>
<circle cx="196.7" cy="172.0" r="2.57" fill="url(#gg)"/>
<circle cx="187.5" cy="183.0" r="2.39" fill="url(#gg)"/>
<circle cx="168.3" cy="198.1" r="2.39" fill="url(#gg)"/>
<circle cx="193.0" cy="160.1" r="2.94" fill="url(#gl)"/>
<circle cx="192.1" cy="163.8" r="2.94" fill="url(#gl)"/>
<circle cx="193.9" cy="168.3" r="2.75" fill="url(#gl)"/>
<circle cx="188.4" cy="173.9" r="2.75" fill="url(#gl)"/>
<circle cx="186.6" cy="177.5" r="2.57" fill="url(#gl)"/>
<circle cx="181.1" cy="181.2" r="2.57" fill="url(#gl)"/>
<circle cx="165.5" cy="193.1" r="2.57" fill="url(#gl)"/>
<circle cx="180.2" cy="195.0" r="2.75" fill="url(#gl)"/>
<circle cx="184.8" cy="193.5" r="2.75" fill="url(#gl)"/>
<circle cx="192.1" cy="195.3" r="2.75" fill="url(#gl)"/>
<circle cx="188.4" cy="154.6" r="2.75" fill="url(#gc)"/>
<circle cx="189.4" cy="158.3" r="2.57" fill="url(#gc)"/>
<circle cx="203.7" cy="172.4" r="2.75" fill="url(#gc)"/>
<circle cx="191.9" cy="63.0" r="3.37" fill="url(#gg)"/>
<circle cx="188.8" cy="68.3" r="3.06" fill="url(#gg)"/>
<circle cx="197.2" cy="75.2" r="3.37" fill="url(#gg)"/>
<circle cx="201.1" cy="79.8" r="3.37" fill="url(#gg)"/>
<circle cx="192.7" cy="81.3" r="3.37" fill="url(#gg)"/>
<circle cx="206.4" cy="83.6" r="3.83" fill="url(#gg)"/>
<circle cx="186.5" cy="85.9" r="2.76" fill="url(#gg)"/>
<circle cx="230.9" cy="76.7" r="3.83" fill="url(#gg)"/>
<circle cx="237.0" cy="75.2" r="3.83" fill="url(#gg)"/>
<circle cx="241.6" cy="72.1" r="3.37" fill="url(#gg)"/>
<circle cx="226.3" cy="81.3" r="3.83" fill="url(#gg)"/>
<circle cx="238.6" cy="81.3" r="3.83" fill="url(#gg)"/>
<circle cx="235.5" cy="87.4" r="3.83" fill="url(#gg)"/>
<circle cx="219.4" cy="79.8" r="3.83" fill="url(#gd)"/>
<circle cx="232.4" cy="82.9" r="3.83" fill="url(#gd)"/>
<circle cx="223.3" cy="85.9" r="3.83" fill="url(#gd)"/>
<circle cx="214.1" cy="70.6" r="3.83" fill="url(#gg)"/>
<circle cx="220.2" cy="71.4" r="3.83" fill="url(#gg)"/>
<circle cx="226.3" cy="70.6" r="3.83" fill="url(#gg)"/>
<circle cx="232.4" cy="69.8" r="3.83" fill="url(#gg)"/>
<circle cx="237.8" cy="68.3" r="3.37" fill="url(#gg)"/>
<circle cx="223.3" cy="76.0" r="3.83" fill="url(#gg)"/>
<circle cx="217.9" cy="85.9" r="3.37" fill="url(#gg)"/>
<circle cx="211.0" cy="60.7" r="3.83" fill="url(#gg)"/>
<circle cx="206.4" cy="63.0" r="3.83" fill="url(#gg)"/>
<circle cx="201.8" cy="59.9" r="3.37" fill="url(#gg)"/>
<circle cx="200.3" cy="67.6" r="3.37" fill="url(#gg)"/>
<circle cx="213.3" cy="65.3" r="3.83" fill="url(#gg)"/>
<circle cx="218.7" cy="64.5" r="3.83" fill="url(#gg)"/>
<circle cx="224.8" cy="63.0" r="3.83" fill="url(#gg)"/>
<circle cx="230.9" cy="65.3" r="3.83" fill="url(#gg)"/>
<circle cx="237.0" cy="61.4" r="3.83" fill="url(#gg)"/>
<circle cx="242.4" cy="63.0" r="3.37" fill="url(#gg)"/>
<circle cx="224.8" cy="48.4" r="3.83" fill="url(#gl)"/>
<circle cx="220.2" cy="52.2" r="3.83" fill="url(#gl)"/>
<circle cx="228.6" cy="53.0" r="3.83" fill="url(#gl)"/>
<circle cx="223.3" cy="56.8" r="3.83" fill="url(#gl)"/>
<circle cx="235.5" cy="53.8" r="3.83" fill="url(#gl)"/>
<circle cx="240.1" cy="51.5" r="3.37" fill="url(#gl)"/>
<circle cx="240.1" cy="57.6" r="3.83" fill="url(#gl)"/>
<circle cx="217.1" cy="56.8" r="3.83" fill="url(#gg)"/>
<circle cx="230.9" cy="58.4" r="3.83" fill="url(#gg)"/>
<circle cx="199.8" cy="54.1" r="3.83" fill="url(#gc)"/>
<circle cx="206.4" cy="69.8" r="3.37" fill="url(#gc)"/>
<circle cx="242.9" cy="81.5" r="3.37" fill="url(#gg)"/>
<circle cx="233.7" cy="83.1" r="3.83" fill="url(#gg)"/>
<circle cx="219.9" cy="84.6" r="3.83" fill="url(#gg)"/>
<circle cx="239.8" cy="84.6" r="3.83" fill="url(#gg)"/>
<circle cx="240.6" cy="94.5" r="3.83" fill="url(#gg)"/>
<circle cx="235.2" cy="90.7" r="3.37" fill="url(#gd)"/>
<circle cx="206.1" cy="83.1" r="3.37" fill="url(#gl)"/>
<circle cx="221.4" cy="93.8" r="3.37" fill="url(#gg)"/>
<circle cx="218.4" cy="101.4" r="3.37" fill="url(#gg)"/>
<circle cx="224.5" cy="101.4" r="3.37" fill="url(#gg)"/>
<circle cx="214.5" cy="99.1" r="3.37" fill="url(#gl)"/>
<circle cx="204.6" cy="101.4" r="3.83" fill="url(#gl)"/>
<circle cx="203.1" cy="106.8" r="3.83" fill="url(#gl)"/>
<circle cx="200.8" cy="110.6" r="3.06" fill="url(#gl)"/>
<circle cx="238.3" cy="102.2" r="3.37" fill="url(#gg)"/>
<circle cx="230.6" cy="102.2" r="3.83" fill="url(#gd)"/>
<circle cx="231.4" cy="109.8" r="3.37" fill="url(#gd)"/>
<circle cx="223.7" cy="112.1" r="3.06" fill="url(#gg)"/>
<circle cx="204.6" cy="119.0" r="3.37" fill="url(#gg)"/>
<circle cx="211.5" cy="117.5" r="3.37" fill="url(#gg)"/>
<circle cx="216.1" cy="121.3" r="3.37" fill="url(#gg)"/>
<circle cx="225.3" cy="123.6" r="3.37" fill="url(#gg)"/>
<circle cx="229.1" cy="127.4" r="3.37" fill="url(#gg)"/>
<circle cx="204.6" cy="126.7" r="3.06" fill="url(#gg)"/>
<circle cx="212.2" cy="127.4" r="3.06" fill="url(#gg)"/>
<circle cx="448.7" cy="112.5" r="3.85" fill="url(#gl)"/>
<circle cx="434.1" cy="152.4" r="3.57" fill="url(#gl)"/>
<circle cx="443.7" cy="157.9" r="3.30" fill="url(#gl)"/>
<circle cx="430.0" cy="151.0" r="3.30" fill="url(#gl)"/>
<circle cx="450.6" cy="109.2" r="3.57" fill="url(#gg)"/>
<circle cx="446.5" cy="137.2" r="3.85" fill="url(#gg)"/>
<circle cx="447.0" cy="148.2" r="3.57" fill="url(#gg)"/>
<circle cx="439.6" cy="151.0" r="3.57" fill="url(#gg)"/>
<circle cx="435.5" cy="164.7" r="3.30" fill="url(#gg)"/>
<circle cx="443.7" cy="144.1" r="3.57" fill="url(#gd)"/>
<circle cx="441.0" cy="164.7" r="3.57" fill="url(#gd)"/>
<circle cx="428.6" cy="168.8" r="3.30" fill="url(#gc)"/>
<circle cx="489.2" cy="79.2" r="3.85" fill="url(#gd)"/>
<circle cx="496.7" cy="81.3" r="3.85" fill="url(#gd)"/>
<circle cx="508.4" cy="81.3" r="3.42" fill="url(#gd)"/>
<circle cx="479.6" cy="88.8" r="3.85" fill="url(#gd)"/>
<circle cx="482.8" cy="93.1" r="3.85" fill="url(#gd)"/>
<circle cx="479.6" cy="95.2" r="3.42" fill="url(#gd)"/>
<circle cx="510.6" cy="92.0" r="3.42" fill="url(#gd)"/>
<circle cx="472.1" cy="76.0" r="2.99" fill="url(#gg)"/>
<circle cx="504.2" cy="77.1" r="3.85" fill="url(#gg)"/>
<circle cx="511.7" cy="73.9" r="3.85" fill="url(#gg)"/>
<circle cx="491.3" cy="86.7" r="3.21" fill="url(#gg)"/>
<circle cx="492.4" cy="97.4" r="3.85" fill="url(#gg)"/>
<circle cx="504.2" cy="86.7" r="2.99" fill="url(#gg)"/>
<circle cx="465.7" cy="86.7" r="2.57" fill="url(#gg)"/>
<circle cx="514.9" cy="79.2" r="3.42" fill="url(#gl)"/>
<circle cx="498.8" cy="87.8" r="3.42" fill="url(#gl)"/>
<circle cx="515.9" cy="91.0" r="2.99" fill="url(#gl)"/>
<circle cx="515.9" cy="97.4" r="2.99" fill="url(#gc)"/>
<circle cx="569.9" cy="70.3" r="3.42" fill="url(#gd)"/>
<circle cx="567.8" cy="62.8" r="3.42" fill="url(#gd)"/>
<circle cx="512.1" cy="84.2" r="2.99" fill="url(#gd)"/>
<circle cx="530.3" cy="91.7" r="2.99" fill="url(#gd)"/>
<circle cx="514.3" cy="92.8" r="2.99" fill="url(#gd)"/>
<circle cx="522.8" cy="99.2" r="2.99" fill="url(#gd)"/>
<circle cx="544.2" cy="101.3" r="2.99" fill="url(#gd)"/>
<circle cx="537.8" cy="75.6" r="3.42" fill="url(#gg)"/>
<circle cx="535.7" cy="79.9" r="2.99" fill="url(#gg)"/>
<circle cx="562.4" cy="79.9" r="3.85" fill="url(#gg)"/>
<circle cx="549.6" cy="87.4" r="3.21" fill="url(#gg)"/>
<circle cx="575.2" cy="67.1" r="3.42" fill="url(#gg)"/>
<circle cx="519.6" cy="78.9" r="2.99" fill="url(#gg)"/>
<circle cx="533.5" cy="97.0" r="3.21" fill="url(#gg)"/>
<circle cx="528.2" cy="101.3" r="2.99" fill="url(#gg)"/>
<circle cx="543.2" cy="51.0" r="2.99" fill="url(#gl)"/>
<circle cx="531.4" cy="79.9" r="2.57" fill="url(#gc)"/>
<circle cx="542.1" cy="81.0" r="2.57" fill="url(#gc)"/>
<circle cx="519.6" cy="91.0" r="2.14" fill="url(#gc)"/>
<circle cx="517.5" cy="99.2" r="2.57" fill="url(#gc)"/>
<circle cx="545.3" cy="71.4" r="2.14" fill="url(#gc)"/>
<circle cx="463.9" cy="105.7" r="2.99" fill="url(#gd)"/>
<circle cx="455.3" cy="107.8" r="2.99" fill="url(#gd)"/>
<circle cx="465.0" cy="115.3" r="2.99" fill="url(#gd)"/>
<circle cx="452.1" cy="115.3" r="2.78" fill="url(#gd)"/>
<circle cx="477.8" cy="108.9" r="2.99" fill="url(#gd)"/>
<circle cx="487.4" cy="103.6" r="2.99" fill="url(#gd)"/>
<circle cx="518.4" cy="113.2" r="2.99" fill="url(#gd)"/>
<circle cx="521.7" cy="103.6" r="2.99" fill="url(#gd)"/>
<circle cx="458.6" cy="121.7" r="2.99" fill="url(#gd)"/>
<circle cx="520.6" cy="126.0" r="2.99" fill="url(#gd)"/>
<circle cx="471.4" cy="139.5" r="2.99" fill="url(#gd)"/>
<circle cx="498.1" cy="150.6" r="2.99" fill="url(#gd)"/>
<circle cx="504.5" cy="154.9" r="2.78" fill="url(#gd)"/>
<circle cx="504.5" cy="160.2" r="2.78" fill="url(#gd)"/>
<circle cx="451.1" cy="141.0" r="2.14" fill="url(#gd)"/>
<circle cx="478.9" cy="95.0" r="2.78" fill="url(#gd)"/>
<circle cx="466.0" cy="110.0" r="2.99" fill="url(#gg)"/>
<circle cx="484.2" cy="107.8" r="2.99" fill="url(#gg)"/>
<circle cx="514.2" cy="107.8" r="2.99" fill="url(#gg)"/>
<circle cx="481.0" cy="117.5" r="2.99" fill="url(#gg)"/>
<circle cx="479.9" cy="129.2" r="2.99" fill="url(#gg)"/>
<circle cx="492.8" cy="126.0" r="2.78" fill="url(#gg)"/>
<circle cx="457.5" cy="131.4" r="2.99" fill="url(#gg)"/>
<circle cx="528.1" cy="121.7" r="2.57" fill="url(#gg)"/>
<circle cx="488.5" cy="95.0" r="2.57" fill="url(#gg)"/>
<circle cx="470.3" cy="113.2" r="2.99" fill="url(#gl)"/>
<circle cx="492.8" cy="97.1" r="2.78" fill="url(#gl)"/>
<circle cx="496.0" cy="102.5" r="2.99" fill="url(#gl)"/>
<circle cx="506.7" cy="105.7" r="2.99" fill="url(#gl)"/>
<circle cx="502.4" cy="120.7" r="2.99" fill="url(#gl)"/>
<circle cx="505.6" cy="119.6" r="2.99" fill="url(#gl)"/>
<circle cx="477.8" cy="129.2" r="2.78" fill="url(#gl)"/>
<circle cx="514.2" cy="132.4" r="2.99" fill="url(#gl)"/>
<circle cx="516.3" cy="136.7" r="2.99" fill="url(#gl)"/>
<circle cx="463.9" cy="143.8" r="2.78" fill="url(#gl)"/>
<circle cx="492.8" cy="143.8" r="2.78" fill="url(#gl)"/>
<circle cx="489.6" cy="148.0" r="2.78" fill="url(#gl)"/>
<circle cx="494.9" cy="152.8" r="2.99" fill="url(#gl)"/>
<circle cx="454.3" cy="160.2" r="2.99" fill="url(#gl)"/>
<circle cx="465.0" cy="126.7" r="2.78" fill="url(#gc)"/>
<circle cx="491.7" cy="122.8" r="2.78" fill="url(#gc)"/>
<circle cx="488.5" cy="128.2" r="2.78" fill="url(#gc)"/>
<circle cx="511.0" cy="129.2" r="2.78" fill="url(#gc)"/>
<circle cx="487.4" cy="137.8" r="2.78" fill="url(#gc)"/>
<circle cx="502.4" cy="110.0" r="2.78" fill="url(#gc)"/>
<circle cx="461.8" cy="147.4" r="2.57" fill="url(#gc)"/>
<circle cx="461.8" cy="153.8" r="2.57" fill="url(#gc)"/>
<circle cx="465.0" cy="156.0" r="2.57" fill="url(#gc)"/>
<circle cx="470.3" cy="152.8" r="2.78" fill="url(#gc)"/>
<circle cx="472.5" cy="157.0" r="2.57" fill="url(#gc)"/>
<circle cx="467.1" cy="161.3" r="2.57" fill="url(#gc)"/>
<circle cx="518.4" cy="98.9" r="2.57" fill="url(#gt)"/>
<circle cx="476.7" cy="144.6" r="2.57" fill="url(#gt)"/>
<circle cx="475.7" cy="151.7" r="2.57" fill="url(#gt)"/>
<circle cx="474.6" cy="158.1" r="2.57" fill="url(#gt)"/>
<circle cx="433.8" cy="153.8" r="3.06" fill="url(#gg)"/>
<circle cx="442.9" cy="152.3" r="3.06" fill="url(#gg)"/>
<circle cx="443.7" cy="159.9" r="2.75" fill="url(#gg)"/>
<circle cx="435.3" cy="164.5" r="3.06" fill="url(#gg)"/>
<circle cx="441.4" cy="166.1" r="2.75" fill="url(#gg)"/>
<circle cx="434.5" cy="172.9" r="2.75" fill="url(#gg)"/>
<circle cx="461.3" cy="183.7" r="3.06" fill="url(#gg)"/>
<circle cx="434.5" cy="194.4" r="2.75" fill="url(#gg)"/>
<circle cx="428.4" cy="185.2" r="2.45" fill="url(#gg)"/>
<circle cx="496.5" cy="151.5" r="2.75" fill="url(#gg)"/>
<circle cx="434.5" cy="169.9" r="2.75" fill="url(#gd)"/>
<circle cx="424.6" cy="180.6" r="2.75" fill="url(#gd)"/>
<circle cx="453.7" cy="160.7" r="3.06" fill="url(#gl)"/>
<circle cx="487.3" cy="172.2" r="3.06" fill="url(#gl)"/>
<circle cx="495.0" cy="163.0" r="3.06" fill="url(#gl)"/>
<circle cx="468.9" cy="196.7" r="2.75" fill="url(#gl)"/>
<circle cx="426.9" cy="192.8" r="2.75" fill="url(#gl)"/>
<circle cx="461.3" cy="153.1" r="3.06" fill="url(#gt)"/>
<circle cx="473.5" cy="156.9" r="3.06" fill="url(#gt)"/>
<circle cx="477.4" cy="151.5" r="2.75" fill="url(#gt)"/>
<circle cx="448.3" cy="178.3" r="2.75" fill="url(#gt)"/>
<circle cx="423.1" cy="182.9" r="2.29" fill="url(#gt)"/>
<circle cx="464.4" cy="155.4" r="3.06" fill="url(#gc)"/>
<circle cx="470.5" cy="153.8" r="3.06" fill="url(#gc)"/>
<circle cx="466.7" cy="161.5" r="3.06" fill="url(#gc)"/>
<circle cx="469.7" cy="163.8" r="3.06" fill="url(#gc)"/>
<circle cx="472.8" cy="171.4" r="3.06" fill="url(#gc)"/>
<circle cx="436.1" cy="179.1" r="3.06" fill="url(#gc)"/>
<circle cx="429.9" cy="177.5" r="2.75" fill="url(#gc)"/>
<circle cx="427.6" cy="170.7" r="2.45" fill="url(#gc)"/>
<circle cx="511.8" cy="93.2" r="3.43" fill="url(#gd)"/>
<circle cx="528.9" cy="92.1" r="3.43" fill="url(#gd)"/>
<circle cx="534.3" cy="96.4" r="3.43" fill="url(#gd)"/>
<circle cx="521.4" cy="104.6" r="3.43" fill="url(#gd)"/>
<circle cx="528.9" cy="103.3" r="3.43" fill="url(#gd)"/>
<circle cx="545.0" cy="103.3" r="3.43" fill="url(#gd)"/>
<circle cx="513.9" cy="108.8" r="3.21" fill="url(#gd)"/>
<circle cx="521.4" cy="124.7" r="3.21" fill="url(#gd)"/>
<circle cx="520.3" cy="128.5" r="3.21" fill="url(#gd)"/>
<circle cx="501.1" cy="149.9" r="2.57" fill="url(#gd)"/>
<circle cx="505.4" cy="154.2" r="3.00" fill="url(#gd)"/>
<circle cx="530.0" cy="98.1" r="3.00" fill="url(#gg)"/>
<circle cx="508.6" cy="106.1" r="3.21" fill="url(#gg)"/>
<circle cx="518.8" cy="113.1" r="3.21" fill="url(#gg)"/>
<circle cx="550.3" cy="90.0" r="2.57" fill="url(#gg)"/>
<circle cx="552.4" cy="111.0" r="3.43" fill="url(#gl)"/>
<circle cx="505.4" cy="120.0" r="3.21" fill="url(#gl)"/>
<circle cx="501.1" cy="121.0" r="3.00" fill="url(#gl)"/>
<circle cx="530.0" cy="122.1" r="3.21" fill="url(#gl)"/>
<circle cx="516.1" cy="131.7" r="3.21" fill="url(#gl)"/>
<circle cx="515.0" cy="136.0" r="3.00" fill="url(#gl)"/>
<circle cx="517.1" cy="99.6" r="3.00" fill="url(#gc)"/>
<circle cx="519.3" cy="91.1" r="3.00" fill="url(#gc)"/>
<circle cx="502.6" cy="109.7" r="3.00" fill="url(#gc)"/>
<circle cx="510.3" cy="129.2" r="3.00" fill="url(#gc)"/>
<circle cx="435.0" cy="151.0" r="2.75" fill="url(#gg)"/>
<circle cx="433.2" cy="158.3" r="2.75" fill="url(#gg)"/>
<circle cx="435.0" cy="163.9" r="2.75" fill="url(#gg)"/>
<circle cx="435.0" cy="167.5" r="2.75" fill="url(#gg)"/>
<circle cx="409.4" cy="179.4" r="2.75" fill="url(#gg)"/>
<circle cx="424.0" cy="184.0" r="2.75" fill="url(#gg)"/>
<circle cx="434.1" cy="185.9" r="2.75" fill="url(#gg)"/>
<circle cx="432.3" cy="170.3" r="2.75" fill="url(#gd)"/>
<circle cx="413.0" cy="178.5" r="2.75" fill="url(#gd)"/>
<circle cx="423.1" cy="178.5" r="2.75" fill="url(#gd)"/>
<circle cx="430.5" cy="152.8" r="2.75" fill="url(#gl)"/>
<circle cx="427.7" cy="185.9" r="2.57" fill="url(#gl)"/>
<circle cx="417.6" cy="189.5" r="2.94" fill="url(#gl)"/>
<circle cx="426.8" cy="193.2" r="2.75" fill="url(#gl)"/>
<circle cx="435.0" cy="194.1" r="2.75" fill="url(#gl)"/>
<circle cx="402.0" cy="173.9" r="1.83" fill="url(#gl)"/>
<circle cx="427.7" cy="170.3" r="2.57" fill="url(#gc)"/>
<circle cx="430.5" cy="178.5" r="2.75" fill="url(#gc)"/>
<circle cx="436.0" cy="178.5" r="2.75" fill="url(#gc)"/>
<circle cx="424.0" cy="182.2" r="1.83" fill="url(#gc)"/>
<circle cx="426.3" cy="192.9" r="2.93" fill="url(#gl)"/>
<circle cx="434.9" cy="194.4" r="2.69" fill="url(#gl)"/>
<circle cx="469.1" cy="197.3" r="2.69" fill="url(#gl)"/>
<circle cx="417.8" cy="190.5" r="2.44" fill="url(#gl)"/>
<circle cx="426.3" cy="199.3" r="2.69" fill="url(#gd)"/>
<circle cx="468.7" cy="197.4" r="2.69" fill="url(#gl)"/>
<circle cx="158.0" cy="183.1" r="3.00" fill="url(#gc)"/>
<circle cx="19.8" cy="58.0" r="4.60" fill="url(#gb)"/>
<circle cx="23.8" cy="56.4" r="4.40" fill="url(#gb)"/>
<circle cx="27.4" cy="55.0" r="4.00" fill="url(#gb)"/>
<circle cx="29.8" cy="54.0" r="3.30" fill="url(#gb)"/>
<circle cx="281.9" cy="22.0" r="1.96" fill="url(#gb)"/>
<circle cx="285.0" cy="22.4" r="2.20" fill="url(#gb)"/>
<circle cx="288.7" cy="22.9" r="1.96" fill="url(#gb)"/>
<circle cx="247.7" cy="54.7" r="3.91" fill="url(#gb)"/>
<circle cx="252.6" cy="53.5" r="4.16" fill="url(#gb)"/>
<circle cx="258.7" cy="53.5" r="4.16" fill="url(#gb)"/>
<circle cx="264.1" cy="55.9" r="3.67" fill="url(#gb)"/>
<circle cx="248.9" cy="60.8" r="3.67" fill="url(#gb)"/>
<circle cx="255.0" cy="60.8" r="3.91" fill="url(#gb)"/>
<circle cx="261.2" cy="60.1" r="3.91" fill="url(#gb)"/>
<circle cx="257.5" cy="57.1" r="4.16" fill="url(#gb)"/>
<circle cx="271.4" cy="261.8" r="2.02" fill="url(#gb)"/>
<circle cx="272.3" cy="264.2" r="2.02" fill="url(#gb)"/>
<circle cx="274.1" cy="266.0" r="2.02" fill="url(#gb)"/>
<circle cx="276.9" cy="267.3" r="2.02" fill="url(#gb)"/>
<circle cx="279.6" cy="268.2" r="2.02" fill="url(#gb)"/>
<circle cx="282.0" cy="268.6" r="1.83" fill="url(#gb)"/>
<circle cx="275.0" cy="263.1" r="1.83" fill="url(#gb)"/>
<circle cx="270.5" cy="264.2" r="1.83" fill="url(#gb)"/>
<circle cx="278.3" cy="266.4" r="1.83" fill="url(#gb)"/>
<circle cx="273.2" cy="260.9" r="1.65" fill="url(#gb)"/>
<circle cx="452.0" cy="89.9" r="5.19" fill="url(#gb)"/>
<circle cx="450.6" cy="98.2" r="5.19" fill="url(#gb)"/>
<circle cx="441.0" cy="116.6" r="4.87" fill="url(#gb)"/>
<circle cx="445.1" cy="123.5" r="5.19" fill="url(#gb)"/>
<circle cx="435.5" cy="140.0" r="5.51" fill="url(#gb)"/>
<circle cx="409.4" cy="166.9" r="4.54" fill="url(#gb)"/>
<circle cx="423.1" cy="162.0" r="4.87" fill="url(#gb)"/>
<circle cx="428.6" cy="161.4" r="4.54" fill="url(#gb)"/>
<circle cx="419.0" cy="171.6" r="4.22" fill="url(#gb)"/>
<circle cx="410.7" cy="172.4" r="4.22" fill="url(#gb)"/>
<circle cx="451.8" cy="96.3" r="5.05" fill="url(#gb)"/>
<circle cx="452.8" cy="91.0" r="5.05" fill="url(#gb)"/>
<circle cx="457.1" cy="87.8" r="5.05" fill="url(#gb)"/>
<circle cx="460.3" cy="76.0" r="4.54" fill="url(#gb)"/>
<circle cx="463.5" cy="79.2" r="5.05" fill="url(#gb)"/>
<circle cx="467.8" cy="84.5" r="4.54" fill="url(#gb)"/>
<circle cx="477.4" cy="79.2" r="5.05" fill="url(#gb)"/>
<circle cx="473.2" cy="71.7" r="4.54" fill="url(#gb)"/>
<circle cx="467.8" cy="66.4" r="5.05" fill="url(#gb)"/>
<circle cx="471.0" cy="62.1" r="5.05" fill="url(#gb)"/>
<circle cx="475.3" cy="67.4" r="5.05" fill="url(#gb)"/>
<circle cx="481.7" cy="69.6" r="5.05" fill="url(#gb)"/>
<circle cx="497.8" cy="62.1" r="4.54" fill="url(#gb)"/>
<circle cx="493.5" cy="67.4" r="5.05" fill="url(#gb)"/>
<circle cx="492.4" cy="62.1" r="5.05" fill="url(#gb)"/>
<circle cx="494.5" cy="56.7" r="5.05" fill="url(#gb)"/>
<circle cx="499.9" cy="54.6" r="5.05" fill="url(#gb)"/>
<circle cx="513.8" cy="67.4" r="4.54" fill="url(#gb)"/>
<circle cx="518.1" cy="64.2" r="4.54" fill="url(#gb)"/>
<circle cx="511.7" cy="57.8" r="5.05" fill="url(#gb)"/>
<circle cx="514.9" cy="62.1" r="5.05" fill="url(#gb)"/>
<circle cx="513.8" cy="53.5" r="5.05" fill="url(#gb)"/>
<circle cx="512.1" cy="69.2" r="4.54" fill="url(#gb)"/>
<circle cx="523.9" cy="69.2" r="5.05" fill="url(#gb)"/>
<circle cx="517.5" cy="62.8" r="5.55" fill="url(#gb)"/>
<circle cx="514.3" cy="60.7" r="5.05" fill="url(#gb)"/>
<circle cx="513.2" cy="52.1" r="5.05" fill="url(#gb)"/>
<circle cx="518.6" cy="54.3" r="5.05" fill="url(#gb)"/>
<circle cx="526.0" cy="55.3" r="5.55" fill="url(#gb)"/>
<circle cx="538.9" cy="66.0" r="4.54" fill="url(#gb)"/>
<circle cx="535.7" cy="62.8" r="5.05" fill="url(#gb)"/>
<circle cx="545.3" cy="62.8" r="5.05" fill="url(#gb)"/>
<circle cx="537.8" cy="56.4" r="5.55" fill="url(#gb)"/>
<circle cx="542.1" cy="59.6" r="5.55" fill="url(#gb)"/>
<circle cx="549.6" cy="56.4" r="5.55" fill="url(#gb)"/>
<circle cx="556.0" cy="56.4" r="5.55" fill="url(#gb)"/>
<circle cx="562.4" cy="56.0" r="5.55" fill="url(#gb)"/>
<circle cx="568.8" cy="56.4" r="5.55" fill="url(#gb)"/>
<circle cx="575.2" cy="55.3" r="5.55" fill="url(#gb)"/>
<circle cx="581.7" cy="55.3" r="5.55" fill="url(#gb)"/>
<circle cx="587.0" cy="56.4" r="5.05" fill="url(#gb)"/>
<circle cx="584.3" cy="55.0" r="5.05" fill="url(#gb)"/>
<circle cx="590.7" cy="55.0" r="5.55" fill="url(#gb)"/>
<circle cx="596.0" cy="55.4" r="5.05" fill="url(#gb)"/>
<circle cx="641.0" cy="53.9" r="1.93" fill="url(#gb)"/>
<circle cx="644.2" cy="55.0" r="1.93" fill="url(#gb)"/>
<circle cx="647.4" cy="54.5" r="1.93" fill="url(#gb)"/>
<circle cx="650.6" cy="55.4" r="1.93" fill="url(#gb)"/>
<circle cx="653.8" cy="55.4" r="1.93" fill="url(#gb)"/>
<circle cx="657.0" cy="56.0" r="1.93" fill="url(#gb)"/>
<circle cx="642.0" cy="58.2" r="1.93" fill="url(#gb)"/>
<circle cx="645.2" cy="59.3" r="1.93" fill="url(#gb)"/>
<circle cx="648.4" cy="58.2" r="1.93" fill="url(#gb)"/>
<circle cx="651.7" cy="59.3" r="1.93" fill="url(#gb)"/>
<circle cx="638.8" cy="61.4" r="1.93" fill="url(#gb)"/>
<circle cx="642.0" cy="62.5" r="1.93" fill="url(#gb)"/>
<circle cx="646.3" cy="62.5" r="1.93" fill="url(#gb)"/>
<circle cx="649.5" cy="63.5" r="1.93" fill="url(#gb)"/>
<circle cx="635.6" cy="65.7" r="1.93" fill="url(#gb)"/>
<circle cx="638.8" cy="66.7" r="1.93" fill="url(#gb)"/>
<circle cx="643.1" cy="67.8" r="1.93" fill="url(#gb)"/>
<circle cx="646.3" cy="69.9" r="1.93" fill="url(#gb)"/>
<circle cx="652.7" cy="67.8" r="1.93" fill="url(#gb)"/>
<circle cx="634.5" cy="68.9" r="1.93" fill="url(#gb)"/>
<circle cx="639.9" cy="56.0" r="1.93" fill="url(#gb)"/>
<circle cx="644.2" cy="65.7" r="1.71" fill="url(#gb)"/>
<circle cx="636.7" cy="63.5" r="1.71" fill="url(#gb)"/>
<circle cx="622.8" cy="78.9" r="1.71" fill="url(#gb)"/>
<circle cx="626.0" cy="81.7" r="1.71" fill="url(#gb)"/>
<circle cx="628.1" cy="79.6" r="1.71" fill="url(#gb)"/>
<circle cx="632.4" cy="79.6" r="1.71" fill="url(#gb)"/>
<circle cx="620.6" cy="87.1" r="1.71" fill="url(#gb)"/>
<circle cx="621.7" cy="90.3" r="1.71" fill="url(#gb)"/>
<circle cx="619.6" cy="92.4" r="1.71" fill="url(#gb)"/>
<circle cx="620.6" cy="97.3" r="1.71" fill="url(#gb)"/>
<circle cx="600.4" cy="117.1" r="2.20" fill="url(#gb)"/>
<circle cx="607.0" cy="124.0" r="2.20" fill="url(#gb)"/>
<circle cx="595.5" cy="139.6" r="2.20" fill="url(#gb)"/>
<circle cx="598.7" cy="139.1" r="2.20" fill="url(#gb)"/>
<circle cx="584.5" cy="161.7" r="2.45" fill="url(#gb)"/>
<circle cx="583.2" cy="164.1" r="2.20" fill="url(#gb)"/>
<circle cx="572.7" cy="166.5" r="2.20" fill="url(#gb)"/>
<circle cx="575.9" cy="172.2" r="2.20" fill="url(#gb)"/>
<circle cx="561.2" cy="177.8" r="2.20" fill="url(#gb)"/>
<circle cx="595.9" cy="140.3" r="2.20" fill="url(#gb)"/>
<circle cx="598.4" cy="139.3" r="2.20" fill="url(#gb)"/>
<circle cx="583.7" cy="161.8" r="2.20" fill="url(#gb)"/>
<circle cx="584.9" cy="163.0" r="2.20" fill="url(#gb)"/>
<circle cx="582.5" cy="164.3" r="2.20" fill="url(#gb)"/>
<circle cx="572.0" cy="167.2" r="2.20" fill="url(#gb)"/>
<circle cx="576.4" cy="171.6" r="2.20" fill="url(#gb)"/>
<circle cx="575.2" cy="173.5" r="2.20" fill="url(#gb)"/>
<circle cx="561.2" cy="177.7" r="1.96" fill="url(#gb)"/>
<circle cx="563.7" cy="182.6" r="1.96" fill="url(#gb)"/>
<circle cx="566.6" cy="186.3" r="1.96" fill="url(#gb)"/>
<circle cx="564.1" cy="189.9" r="1.96" fill="url(#gb)"/>
<circle cx="565.4" cy="194.1" r="1.96" fill="url(#gb)"/>
<circle cx="566.1" cy="196.5" r="1.96" fill="url(#gb)"/>
<circle cx="568.5" cy="199.0" r="1.96" fill="url(#gb)"/>
<circle cx="564.1" cy="204.6" r="1.96" fill="url(#gb)"/>
<circle cx="451.1" cy="98.2" r="4.54" fill="url(#gb)"/>
<circle cx="435.0" cy="141.8" r="4.33" fill="url(#gb)"/>
<circle cx="422.6" cy="162.4" r="4.33" fill="url(#gb)"/>
<circle cx="428.1" cy="161.7" r="4.33" fill="url(#gb)"/>
<circle cx="428.1" cy="164.8" r="3.90" fill="url(#gb)"/>
<circle cx="408.4" cy="167.2" r="4.33" fill="url(#gb)"/>
<circle cx="410.8" cy="173.4" r="4.33" fill="url(#gb)"/>
<circle cx="419.4" cy="171.6" r="4.33" fill="url(#gb)"/>
<circle cx="397.4" cy="177.6" r="4.33" fill="url(#gb)"/>
<circle cx="402.0" cy="183.1" r="4.33" fill="url(#gb)"/>
<circle cx="405.7" cy="184.0" r="3.90" fill="url(#gb)"/>
<circle cx="399.8" cy="185.9" r="4.33" fill="url(#gb)"/>
<circle cx="402.0" cy="191.4" r="4.33" fill="url(#gb)"/>
<circle cx="407.5" cy="194.7" r="4.33" fill="url(#gb)"/>
<circle cx="393.8" cy="196.0" r="4.33" fill="url(#gb)"/>
<circle cx="415.8" cy="198.3" r="3.90" fill="url(#gb)"/>
<circle cx="424.6" cy="161.5" r="3.97" fill="url(#gb)"/>
<circle cx="428.4" cy="160.7" r="3.61" fill="url(#gb)"/>
<circle cx="420.8" cy="171.4" r="3.61" fill="url(#gb)"/>
<circle cx="393.3" cy="196.8" r="4.04" fill="url(#gb)"/>
<circle cx="401.9" cy="192.4" r="4.04" fill="url(#gb)"/>
<circle cx="406.8" cy="194.4" r="4.04" fill="url(#gb)"/>
<circle cx="415.3" cy="199.3" r="4.33" fill="url(#gb)"/>
<circle cx="399.4" cy="204.7" r="4.33" fill="url(#gb)"/>
<circle cx="661.0" cy="55.5" r="2.00" fill="url(#gb)"/>
<circle cx="665.0" cy="56.5" r="2.00" fill="url(#gb)"/>
<circle cx="657.0" cy="57.0" r="2.00" fill="url(#gb)"/>
<circle cx="668.0" cy="57.5" r="1.80" fill="url(#gb)"/>
</g>
<g id="txt" fill="#2a2a2a">
<text x="138" y="14.3" font-size="13" font-weight="bold">a</text>
<text x="164.5" y="14.5" font-size="16.6" textLength="108.5" lengthAdjust="spacingAndGlyphs">Optimization A</text>
<text x="376" y="14.6" font-size="12.5" font-weight="bold">b</text>
<text x="413" y="15" font-size="16.6" font-style="italic" textLength="103.5" lengthAdjust="spacingAndGlyphs">Optimization B</text>
<text x="122.7" y="299.8" font-size="13.5" text-anchor="middle">8.8</text>
<text x="183.8" y="299.8" font-size="13.5" text-anchor="middle">8.0</text>
<text x="244.5" y="299.8" font-size="13.5" text-anchor="middle">7.2</text>
<text x="305.5" y="299.8" font-size="13.5" text-anchor="middle">6.4</text>
<text x="76.3" y="310" font-size="15" fill="#999">*</text>
<text x="83.5" y="308" font-size="14" fill="#333" textLength="13.2" lengthAdjust="spacingAndGlyphs">10</text>
<text x="97.2" y="300" font-size="7.5" fill="#777">-6</text>
<text x="168.5" y="321.7" font-size="20" textLength="8.2" lengthAdjust="spacingAndGlyphs">a</text>
<text x="178.5" y="325.5" font-size="11" >L</text>
<text x="191" y="319" font-size="15" textLength="30.5" lengthAdjust="spacingAndGlyphs">[1/K]</text>
<text x="338.4" y="26.4" font-size="12" textLength="25.6" lengthAdjust="spacingAndGlyphs">100%</text>
<text x="343.8" y="70.4" font-size="12" textLength="20.2" lengthAdjust="spacingAndGlyphs">80%</text>
<text x="345.2" y="110.6" font-size="12" textLength="18.8" lengthAdjust="spacingAndGlyphs">60%</text>
<text x="345" y="145" font-size="12" textLength="19" lengthAdjust="spacingAndGlyphs">40%</text>
<text x="360.5" y="178.8" font-size="7.5" text-anchor="end">120</text>
<text x="362" y="203.2" font-size="9.5" text-anchor="end">150</text>
<text x="364.7" y="232.8" font-size="11" text-anchor="end">180</text>
<text x="368.3" y="270.4" font-size="13.3" text-anchor="end">210</text>
<text x="412" y="300.5" font-size="14" text-anchor="middle">265</text>
<text x="473.5" y="300.5" font-size="14" text-anchor="middle">230</text>
<text x="534.8" y="300.5" font-size="14" text-anchor="middle">195</text>
<text x="595.5" y="300.5" font-size="14" text-anchor="middle">160</text>
<text x="459.6" y="319.8" font-size="15" >C</text>
<text x="469.8" y="325" font-size="10.5" >P</text>
<text x="484.5" y="319.4" font-size="15" textLength="60.5" lengthAdjust="spacingAndGlyphs">[ J/(kg K)]</text>
<text transform="translate(335.2,153.8) rotate(-90)" font-size="13.2" textLength="110" lengthAdjust="spacingAndGlyphs">Retained BCC [%]</text>
<text transform="translate(331.8,261.7) rotate(-90)" font-size="13.4" textLength="54" lengthAdjust="spacingAndGlyphs">Bulk Modulus</text>
<text transform="translate(332.8,206) rotate(-90)" font-size="8" textLength="19" lengthAdjust="spacingAndGlyphs">[GPa]</text>
</g>
</svg>
</body></html>
